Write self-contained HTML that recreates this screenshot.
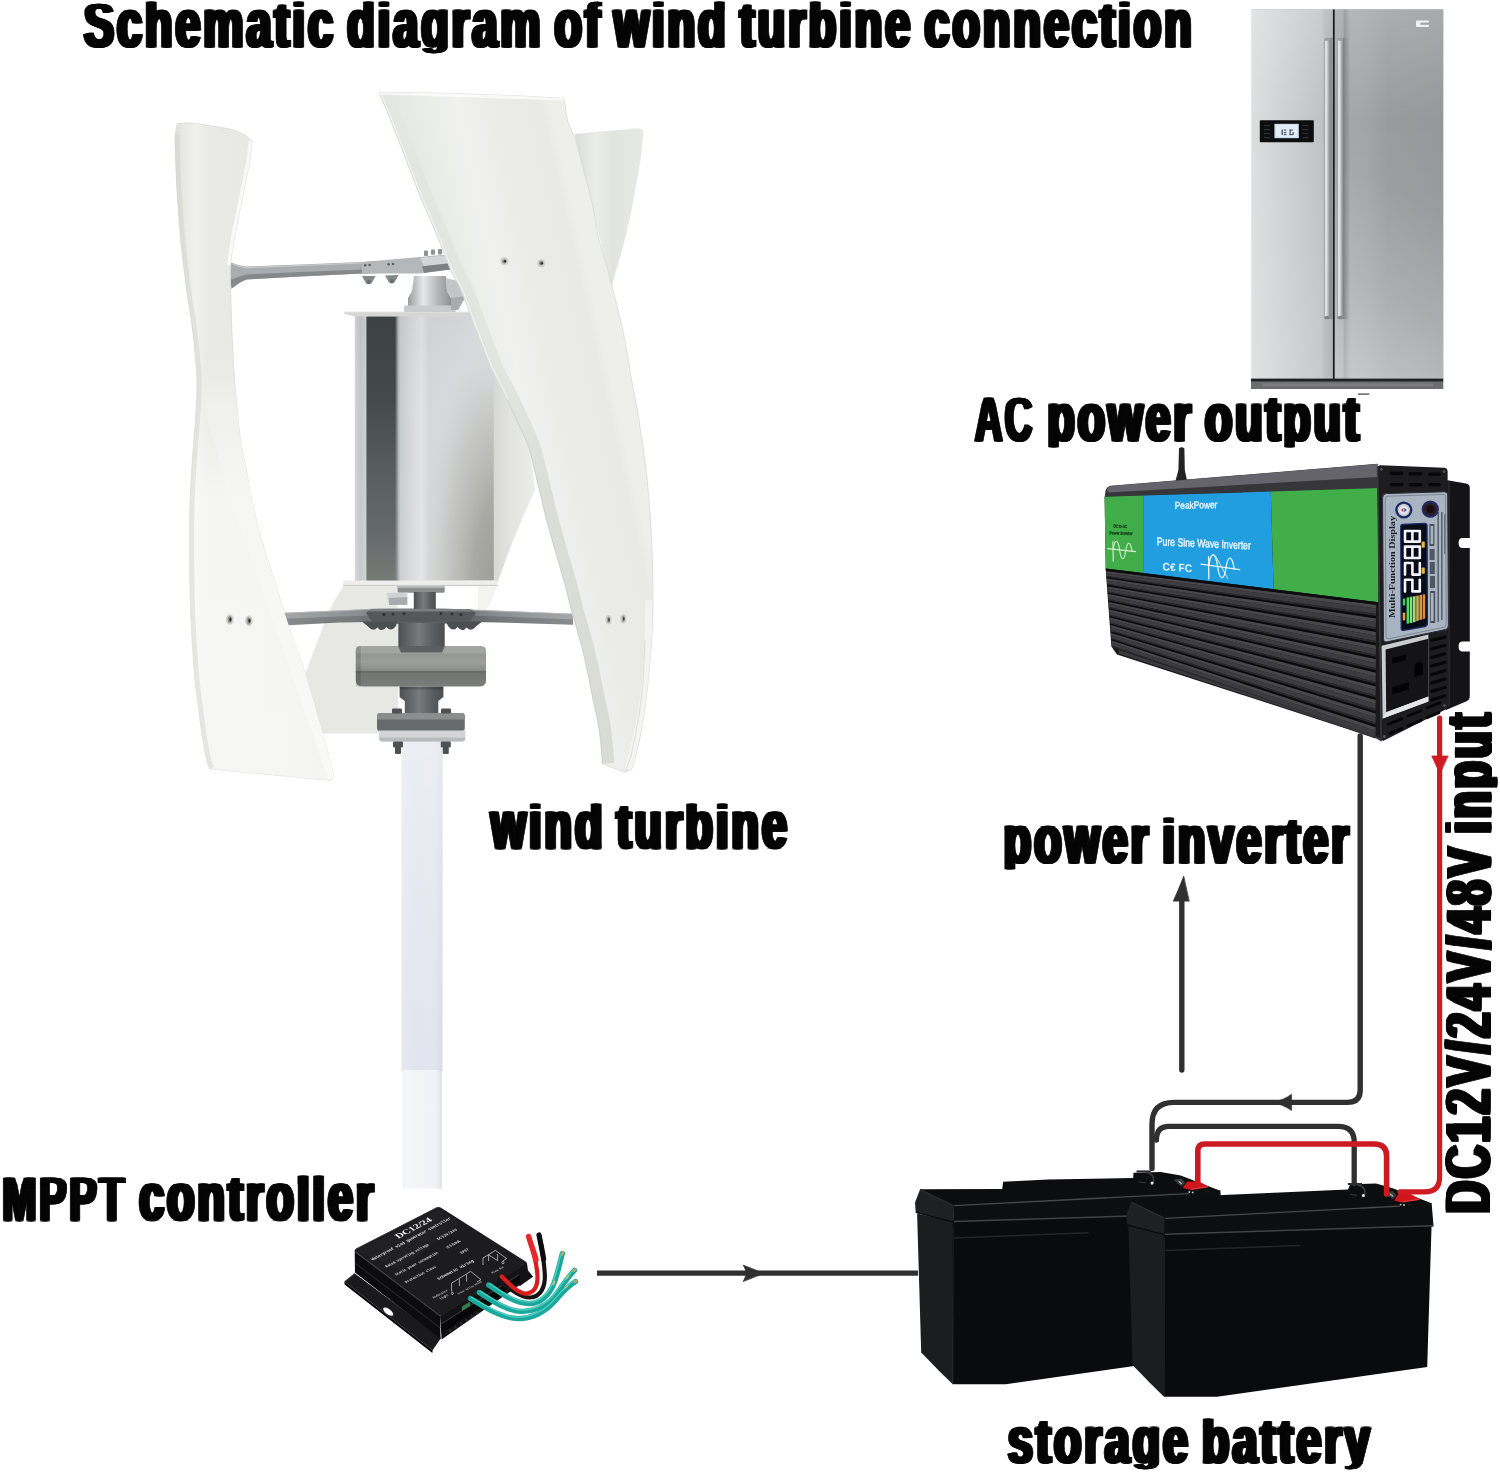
<!DOCTYPE html>
<html>
<head>
<meta charset="utf-8">
<title>Schematic diagram of wind turbine connection</title>
<style>
html,body{margin:0;padding:0;background:#fff;}
body{width:1500px;height:1474px;overflow:hidden;font-family:"Liberation Sans",sans-serif;}
svg{display:block;}
.lbl text{font-family:"Liberation Sans",sans-serif;font-weight:bold;font-size:100px;fill:#050505;stroke:#050505;stroke-width:1.5;stroke-linejoin:miter;letter-spacing:7px;word-spacing:-10px;}
</style>
</head>
<body>
<svg width="1500" height="1474" viewBox="0 0 1500 1474">
<defs>
<linearGradient id="fgL" x1="0" x2="1" y1="0" y2="0"><stop offset="0" stop-color="#dcdedf"/><stop offset="0.3" stop-color="#d2d4d6"/><stop offset="0.85" stop-color="#c0c2c4"/><stop offset="0.9" stop-color="#b4b6b8"/><stop offset="1" stop-color="#a8aaac"/></linearGradient>
<linearGradient id="fgR" x1="0" x2="1" y1="0" y2="0"><stop offset="0" stop-color="#a2a4a6"/><stop offset="0.085" stop-color="#a0a2a4"/><stop offset="0.09" stop-color="#86888a"/><stop offset="0.15" stop-color="#a4a6a8"/><stop offset="0.3" stop-color="#a2a4a6"/><stop offset="0.5" stop-color="#999b9d"/><stop offset="1" stop-color="#95979a"/></linearGradient>
<linearGradient id="fgRB" gradientUnits="userSpaceOnUse" x1="1334" y1="380" x2="1420" y2="200"><stop offset="0" stop-color="#ffffff" stop-opacity="0.32"/><stop offset="0.5" stop-color="#ffffff" stop-opacity="0.12"/><stop offset="1" stop-color="#ffffff" stop-opacity="0"/></linearGradient>
<linearGradient id="fgH" x1="0" x2="1" y1="0" y2="0"><stop offset="0" stop-color="#8a8c8e"/><stop offset="0.3" stop-color="#f2f2f2"/><stop offset="0.55" stop-color="#c8caca"/><stop offset="1" stop-color="#838587"/></linearGradient>
<linearGradient id="fgHS" x1="0" x2="1" y1="0" y2="0"><stop offset="0" stop-color="#7c7e80"/><stop offset="1" stop-color="#9fa1a3" stop-opacity="0"/></linearGradient>
<linearGradient id="fgV" x1="0" x2="0" y1="0" y2="1"><stop offset="0" stop-color="#fff" stop-opacity="0.18"/><stop offset="0.3" stop-color="#fff" stop-opacity="0"/><stop offset="1" stop-color="#fff" stop-opacity="0.12"/></linearGradient>
<g id="battbody">
<!-- body left face -->
<path d="M1128.4 1226 L1164.5 1234 L1164 1396.8 L1150 1383 L1132.5 1365 Z" fill="#1b1d1f"/>
<!-- body front -->
<path d="M1164 1232 L1431.6 1224 L1427.2 1367 L1217 1396.8 L1164 1396.8 Z" fill="#090b0d"/>
<!-- lid left -->
<path d="M1131.5 1201.5 L1165 1217.5 L1164.5 1234.6 L1127 1225 L1126.3 1215 Z" fill="#1e2022"/>
<!-- lid front -->
<path d="M1164.5 1217.5 L1431.6 1203 L1433.6 1226.4 L1164.5 1234.6 Z" fill="#0c0e10"/>
</g>
<g id="batttop">
<!-- highlights -->
<path d="M1165.5 1218.3 L1400 1206.2" stroke="#5b5e61" stroke-width="1.3" fill="none" opacity="0.75"/>
<path d="M1131.5 1202.2 L1165 1218.3" stroke="#2c2e31" stroke-width="1.2" fill="none"/>
<path d="M1165 1234.2 L1433 1225.8" stroke="#46494c" stroke-width="1.5" fill="none" opacity="0.9"/><path d="M1127.2 1225 L1164.5 1234.6" stroke="#0a0b0c" stroke-width="1.4" fill="none"/>
<path d="M1165 1250.5 L1300 1245.4" stroke="#2b2d30" stroke-width="1.5" fill="none" opacity="0.8"/>
<path d="M1164.5 1238 L1164.2 1396" stroke="#1c1e20" stroke-width="1.2" fill="none"/>
<!-- neg terminal -->
<path d="M1347.8 1183 H1362 V1185 H1347.8 Z" fill="#2c2c2e"/>
<path d="M1357.5 1185 Q1364.5 1186 1365 1192 Q1365 1196 1362 1197" stroke="#3a3b3d" stroke-width="1.6" fill="none"/>
<circle cx="1363.4" cy="1195.6" r="1.5" fill="#e6e7e8"/>
<path d="M1350 1194.4 l7 1" stroke="#2e3032" stroke-width="1.2" fill="none"/>
<!-- pos terminal -->
<path d="M1394 1200.5 L1398.5 1194 L1410.5 1194 L1420.4 1199.6 L1402 1202.6 Z" fill="#d0151d"/>
<path d="M1385 1192.4 L1393 1191 L1396.5 1195.6 L1392.6 1199 Z" fill="#3c3e40"/>
<path d="M1390 1194 l3 2.4" stroke="#b9bcbe" stroke-width="1.2" fill="none"/>
<path d="M1402.6 1201.8 L1419 1199.4" stroke="#ef3a40" stroke-width="1.1" fill="none"/>
<circle cx="1400.6" cy="1204.6" r="0.9" fill="#cfd0d1"/><circle cx="1404" cy="1205" r="0.9" fill="#cfd0d1"/>
</g>
<!--TDEFS-START-->
<linearGradient id="poleA" x1="0" x2="1" y1="0" y2="0"><stop offset="0" stop-color="#e6e8ef"/><stop offset="0.35" stop-color="#e1e4ee"/><stop offset="0.8" stop-color="#e2e5ee"/><stop offset="1" stop-color="#d9dce6"/></linearGradient>
<linearGradient id="poleAV" x1="0" x2="0" y1="0" y2="1"><stop offset="0" stop-color="#ffffff" stop-opacity="0.35"/><stop offset="0.5" stop-color="#ffffff" stop-opacity="0.15"/><stop offset="1" stop-color="#ffffff" stop-opacity="0"/></linearGradient>
<linearGradient id="poleB" x1="0" x2="1" y1="0" y2="0"><stop offset="0" stop-color="#eceef2"/><stop offset="0.06" stop-color="#f5f6f8"/><stop offset="0.85" stop-color="#f1f2f5"/><stop offset="0.96" stop-color="#e6e8ec"/><stop offset="1" stop-color="#cfd2d8"/></linearGradient>
<linearGradient id="genG" x1="0" x2="1" y1="0" y2="0"><stop offset="0" stop-color="#d4d7d8"/><stop offset="0.04" stop-color="#c4c7c8"/><stop offset="0.084" stop-color="#cfd2d3"/><stop offset="0.085" stop-color="#5a6163"/><stop offset="0.309" stop-color="#6a7071"/><stop offset="0.325" stop-color="#c9ccce"/><stop offset="0.40" stop-color="#d6d8db"/><stop offset="0.483" stop-color="#e1e3e5"/><stop offset="0.53" stop-color="#d6d7d9"/><stop offset="0.75" stop-color="#d9dadd"/><stop offset="1" stop-color="#e2e3e7"/></linearGradient>
<linearGradient id="genV" x1="0" x2="0" y1="0" y2="1"><stop offset="0" stop-color="#000" stop-opacity="0.03"/><stop offset="0.5" stop-color="#fff" stop-opacity="0"/><stop offset="1" stop-color="#fff" stop-opacity="0.06"/></linearGradient>
<linearGradient id="genD" x1="0" x2="0" y1="0" y2="1"><stop offset="0" stop-color="#3c4244"/><stop offset="0.32" stop-color="#434a4c"/><stop offset="0.58" stop-color="#565d5f"/><stop offset="0.83" stop-color="#656b6b"/><stop offset="1" stop-color="#767b76"/></linearGradient>
<linearGradient id="backMR" gradientUnits="userSpaceOnUse" x1="493" y1="0" x2="533" y2="0"><stop offset="0" stop-color="#d6d8d3"/><stop offset="0.5" stop-color="#e4e5e1"/><stop offset="1" stop-color="#ecede9"/></linearGradient>
<linearGradient id="genDE" x1="0" x2="1" y1="0" y2="0"><stop offset="0" stop-color="#8e9496" stop-opacity="0"/><stop offset="1" stop-color="#c9ccce"/></linearGradient>
<radialGradient id="genHL" gradientUnits="userSpaceOnUse" cx="0" cy="0" r="1" gradientTransform="translate(500,590) scale(78,265)"><stop offset="0" stop-color="#9a9b92" stop-opacity="1"/><stop offset="0.35" stop-color="#a3a49c" stop-opacity="0.9"/><stop offset="0.7" stop-color="#b4b5af" stop-opacity="0.5"/><stop offset="1" stop-color="#c8c9c6" stop-opacity="0"/></radialGradient>
<linearGradient id="rimF" gradientUnits="userSpaceOnUse" x1="0" y1="92" x2="0" y2="770"><stop offset="0" stop-color="#e4e6e1"/><stop offset="0.4" stop-color="#dcded9"/><stop offset="0.6" stop-color="#cdcfc9"/><stop offset="1" stop-color="#cbcdc7"/></linearGradient>
<linearGradient id="bladeLV" x1="0" x2="0" y1="0" y2="1"><stop offset="0" stop-color="#ffffff" stop-opacity="0"/><stop offset="0.3" stop-color="#ffffff" stop-opacity="0.55"/><stop offset="1" stop-color="#ffffff" stop-opacity="0.6"/></linearGradient>
<linearGradient id="coupG" x1="0" x2="1" y1="0" y2="0"><stop offset="0" stop-color="#9a9d9f"/><stop offset="0.35" stop-color="#e6e7e8"/><stop offset="0.7" stop-color="#b3b6b7"/><stop offset="1" stop-color="#8e9193"/></linearGradient>
<linearGradient id="neckG" x1="0" x2="1" y1="0" y2="0"><stop offset="0" stop-color="#4c5052"/><stop offset="0.45" stop-color="#777b7d"/><stop offset="0.7" stop-color="#5e6264"/><stop offset="1" stop-color="#4a4e50"/></linearGradient>
<linearGradient id="diskG" x1="0" x2="0" y1="0" y2="1"><stop offset="0" stop-color="#8b8d8b"/><stop offset="0.4" stop-color="#9d9f9d"/><stop offset="0.6" stop-color="#8a8c8a"/><stop offset="0.65" stop-color="#727472"/><stop offset="1" stop-color="#7b7d7b"/></linearGradient>
<linearGradient id="armG" gradientUnits="userSpaceOnUse" x1="283" y1="0" x2="573" y2="0"><stop offset="0" stop-color="#a3a7a9"/><stop offset="0.25" stop-color="#8c9092"/><stop offset="0.4" stop-color="#6e7274"/><stop offset="0.6" stop-color="#6e7274"/><stop offset="0.75" stop-color="#8c9092"/><stop offset="1" stop-color="#a3a7a9"/></linearGradient>
<linearGradient id="bladeL" gradientUnits="userSpaceOnUse" x1="176" y1="0" x2="340" y2="0"><stop offset="0" stop-color="#dfe0da"/><stop offset="0.05" stop-color="#e9eae5"/><stop offset="0.12" stop-color="#f1f2ee"/><stop offset="0.2" stop-color="#e9eae5"/><stop offset="0.6" stop-color="#e8e9e4"/><stop offset="1" stop-color="#e4e5e0"/></linearGradient>
<linearGradient id="bladeF" gradientUnits="userSpaceOnUse" x1="400" y1="260" x2="575.7" y2="221"><stop offset="0" stop-color="#e2e4df"/><stop offset="0.22" stop-color="#e7e9e4"/><stop offset="0.5" stop-color="#f1f2ef"/><stop offset="0.72" stop-color="#eaebe7"/><stop offset="0.95" stop-color="#e9eae6"/><stop offset="1" stop-color="#eeefeb"/></linearGradient>
<linearGradient id="rimL" x1="0" x2="0" y1="0" y2="1"><stop offset="0" stop-color="#eaebe6" stop-opacity="0"/><stop offset="0.15" stop-color="#f0f1ee" stop-opacity="1"/><stop offset="0.3" stop-color="#f5f5f3"/><stop offset="1" stop-color="#f9f9f7"/></linearGradient>
<linearGradient id="bladeBR" x1="0" x2="1" y1="0" y2="0"><stop offset="0" stop-color="#d9dbd5"/><stop offset="0.3" stop-color="#ecede9"/><stop offset="0.55" stop-color="#e2e4de"/><stop offset="1" stop-color="#e8e9e4"/></linearGradient>
<!--TDEFS-END-->
<!--CLIPS-START-->
<clipPath id="cA"><rect x="-100" y="-300" width="4000" height="246.85"/></clipPath>
<clipPath id="cB"><rect x="-100" y="-53.95" width="4000" height="55.10"/></clipPath>
<clipPath id="cC"><rect x="-100" y="0.35" width="4000" height="300"/></clipPath>
<!--CLIPS-END-->
<!--DEFS-->
</defs>
<rect width="1500" height="1474" fill="#ffffff"/>
<g opacity="0.999">

<!--TURBINE-START-->
<g>
<rect x="401.4" y="735" width="41.2" height="336" fill="url(#poleA)"/>
<rect x="401.4" y="735" width="41.2" height="336" fill="url(#poleAV)"/>
<rect x="402.7" y="1070" width="38.9" height="118.6" fill="url(#poleB)"/>
<path d="M346.0 582.0 C363.3 582.0 380.7 582.0 398.0 582.0 C398.0 632.5 398.0 683.0 398.0 733.5 C372.8 733.5 347.6 733.5 322.4 733.5 C319.3 724.0 316.1 714.5 313.0 705.0 C309.5 697.3 306.0 689.7 302.5 682.0 C306.3 671.6 309.1 663.1 313.8 650.7 C318.5 638.4 325.5 619.4 330.9 607.9 C336.3 596.4 341.0 590.6 346.0 582.0 Z" fill="#e7e8e3" />
<path d="M490.5 366.0 C496.0 377.3 502.4 390.4 507.0 400.0 C511.6 409.6 514.4 415.7 518.0 423.6 C521.6 431.5 525.6 436.6 528.5 447.5 C531.4 458.4 533.2 475.2 535.5 489.0 C530.3 500.7 524.6 513.2 520.0 524.0 C515.4 534.8 511.8 544.0 508.0 554.0 C504.2 564.0 500.7 574.0 497.0 584.0 C494.8 584.0 492.7 584.0 490.5 584.0 C490.5 511.3 490.5 438.7 490.5 366.0 Z" fill="url(#backMR)" />
<path d="M478.0 586.0 C484.3 586.0 490.7 586.0 497.0 586.0 C495.7 589.7 494.8 592.8 493.0 597.0 C491.2 601.2 488.3 606.3 486.0 611.0 C483.3 611.0 480.7 611.0 478.0 611.0 C478.0 602.7 478.0 594.3 478.0 586.0 Z" fill="#f3f3f0" />
<path d="M574.6 133.9 C583.1 133.1 591.6 132.2 600.0 131.5 C608.4 130.8 618.3 130.1 625.0 129.6 C631.7 129.1 636.9 128.3 640.0 128.6 C643.1 128.9 642.4 130.5 643.6 131.5 C643.3 134.7 643.3 136.3 642.8 141.1 C642.3 145.8 641.5 153.2 640.5 160.0 C639.5 166.8 638.1 173.8 636.7 181.8 C635.3 189.8 633.7 199.5 632.0 208.0 C630.3 216.5 628.1 226.0 626.5 232.7 C624.9 239.4 623.9 242.9 622.5 248.0 C621.1 253.1 619.8 258.2 618.4 263.2 C617.0 268.2 615.1 273.5 614.0 278.0 C612.9 282.5 612.3 286.0 611.5 290.0 C609.3 280.7 607.6 273.3 605.0 262.0 C602.4 250.7 599.2 235.3 596.0 222.0 C592.8 208.7 589.0 194.0 586.0 182.0 C583.0 170.0 579.9 158.0 578.0 150.0 C576.1 142.0 575.7 139.3 574.6 133.9 Z" fill="url(#bladeBR)" />
<rect x="354.8" y="315" width="139" height="266" fill="url(#genG)"/>
<rect x="354.8" y="315" width="139" height="266" fill="url(#genV)"/>
<rect x="420" y="316.6" width="73.8" height="264" fill="url(#genHL)"/>
<rect x="366.5" y="316.6" width="30" height="264" fill="url(#genD)"/>
<rect x="394.5" y="316.6" width="5" height="264" fill="url(#genDE)"/>
<path d="M344.5 311.6 L497 311.6 L497 315 L493.6 316.6 L354.8 316.6 L344.5 314 Z" fill="#d6d6d4"/>
<path d="M344.5 311.6 L497 311.6" stroke="#f2f2f0" stroke-width="1.2"/>
<path d="M343 580.4 L497.5 580.4 L497.5 585.6 L343 585.6 Z" fill="#eeeeec"/>
<path d="M343 585.4 L497.5 585.4" stroke="#c9c9c6" stroke-width="1"/>
<g>
<path d="M408 312 L408 298 L412 291 L414 276 L446 276 L447 291 L451 298 L451 312 Z" fill="url(#coupG)"/>
<rect x="404" y="305.5" width="52" height="6.5" rx="1.5" fill="#c9cbcc"/>
<path d="M446 278 L462 282 L466 296 L458 310 L451 310 L451 298 L447 291 Z" fill="#c3c5c6"/>
<path d="M451 298 L466 296 L458 310 L451 310 Z" fill="#a9acad"/>
<!-- arm -->
<path d="M231.2 262.5 Q228.8 275 231.6 288.5 Q238 283 246 279.6 L300 276.6 L362 273.6 L416 272 L420 266 L416 259.6 L362 262 L300 264.6 L246 266.4 Q238 265.6 231.2 262.5 Z" fill="#a9adaf"/>
<path d="M231.6 288.5 Q238 283 246 279.6 L300 276.6 L362 273.6 L416 272 L416 268.4 L362 269.6 L300 272 L246 274.4 Q237 277 230.4 280 Z" fill="#85898b"/>
<path d="M233 264 Q240 267.4 246 267.6 L362 263 L416 260.6" stroke="#c9cccd" stroke-width="1.2" fill="none"/>
<!-- hub plate -->
<path d="M362 262 L420 257 L458 253.6 L468 256 L468 262 L458 268.6 L420 273.4 L362 273.6 Z" fill="#b5b8ba"/>
<path d="M420 258 L458 254 L468 256.4 L458 262 L424 266 Z" fill="#d2d4d5"/>
<path d="M422 266.4 L458 262.4 L468 257.6 L468 262 L458 268.6 L424 273 Z" fill="#7d8183"/>
<g fill="#8e9294"><rect x="424" y="250.6" width="4" height="5.4" rx="1"/><rect x="431" y="249.4" width="4" height="5.4" rx="1"/><rect x="438" y="249" width="4" height="5.4" rx="1"/><rect x="445" y="250" width="4" height="5.4" rx="1"/></g>
<g fill="#5d6163"><circle cx="365.2" cy="265.2" r="1.3"/><circle cx="369.6" cy="265" r="1.3"/><circle cx="388.6" cy="264.2" r="1.3"/><circle cx="393" cy="264" r="1.3"/></g>
<path d="M362 276 L366 283.4 L371.4 283.4 L375.6 276 Z" fill="#85898b"/><path d="M385 275.4 L389 282.6 L394.4 282.6 L398.6 275 Z" fill="#85898b"/>
<circle cx="368.8" cy="282" r="2.2" fill="#6b6f71"/><circle cx="391.8" cy="281.2" r="2.2" fill="#6b6f71"/>
</g>
<g>
<!-- arms -->
<path d="M283 612.8 L340 610.4 L380 608.4 L440 608.4 L480 610 L573 613.8 L573 624.8 L500 622.4 L470 622 L440 624 L400 624 L370 622 L340 622.6 L283 625.6 Z" fill="url(#armG)"/>
<path d="M283 618.8 L340 616.6 L372 615.4 L400 618 L440 618 L468 615.4 L500 616.6 L573 619.6 L573 624.8 L500 622.4 L470 622 L440 624 L400 624 L370 622 L340 622.6 L283 625.6 Z" fill="#000" opacity="0.16"/>
<path d="M283 613.2 L340 610.8 L380 608.8 L440 608.8 L480 610.4 L573 614.2" stroke="#b9bcbe" stroke-width="1" fill="none" opacity="0.8"/>
<!-- under generator mount -->
<rect x="397.7" y="586" width="47" height="6.8" rx="1" fill="#8b8d8d"/>
<rect x="397.7" y="586" width="47" height="2" fill="#b5b7b7"/>
<rect x="413.8" y="592" width="22" height="17" fill="url(#neckG)"/>
<path d="M386.7 593 L407.3 592.6 L407.3 604.8 L389 605 Z" fill="#cfd1d3"/>
<path d="M389 598 L407.3 597 L407.3 604.8 L389 605 Z" fill="#a9acae"/>
<!-- hub plate -->
<path d="M372 609 L470 609 L476 613 L470 621.6 L372 621.6 L366 613 Z" fill="#54585a"/>
<path d="M372 609 L470 609 L474 611.6 L368 611.6 Z" fill="#7b7f81"/>
<g fill="#2e3133"><circle cx="384" cy="614.6" r="1.5"/><circle cx="393" cy="614" r="1.5"/><circle cx="404" cy="613.6" r="1.5"/><circle cx="441" cy="613.6" r="1.5"/><circle cx="452" cy="614" r="1.5"/><circle cx="461" cy="614.6" r="1.5"/></g>
<path d="M362 621.4 L397 621.4 L396 626 Q391 632.6 386.4 627 Q382 633 377.4 627.4 Q373 632.4 368 626.6 Z" fill="#4b4f51"/>
<path d="M446 621.4 L482 621.4 L476 626.6 Q471 632.4 466.6 627.4 Q462 633 457.6 627 Q453 632.6 448 626 Z" fill="#4b4f51"/>
<!-- neck -->
<path d="M398.3 623 L444.7 623 L444.7 648 L442 652.6 L401 652.6 L398.3 648 Z" fill="url(#neckG)"/>
<!-- disk -->
<path d="M355.8 651 Q355.8 646.2 362 646 L480 646 Q486 646.2 486 651 L486 681 Q486 686.4 479 686.6 L363 686.6 Q355.8 686.4 355.8 681 Z" fill="url(#diskG)"/>
<path d="M355.8 651 Q355.8 646.2 362 646 L480 646 Q486 646.2 486 651 L486 653.6 L355.8 653.6 Z" fill="#a3a5a2"/>
<path d="M398 646 L445 646 L442 652.6 L401 652.6 Z" fill="#5b5f61"/>
<rect x="355.8" y="671" width="130.2" height="1.4" fill="#5f615f" opacity="0.7"/>
<rect x="355.8" y="646" width="5" height="40.6" fill="#000" opacity="0.12"/>
<!-- lower neck -->
<path d="M399.6 686.6 L443.4 686.6 L443.4 697 L438.3 701 L438.3 713 L404.8 713 L404.8 701 L399.6 697 Z" fill="url(#neckG)"/>
<rect x="399.6" y="686.6" width="43.8" height="3" fill="#000" opacity="0.18"/>
<!-- flange -->
<path d="M377 716 Q377 713 380.6 713 L461.2 713 Q464.8 713 464.8 716 L464.8 728 Q464.8 731.4 461 731.4 L381 731.4 Q377 731.4 377 728 Z" fill="#676a6b"/>
<path d="M377 716 Q377 713 380.6 713 L461.2 713 Q464.8 713 464.8 716 L464.8 719.6 L377 719.6 Z" fill="#8c8e8e"/>
<path d="M379 730.6 L465.4 730.6 L465.4 738 Q465.4 741.4 462 741.4 L383 741.4 Q379 741.4 379 738 Z" fill="#d2d4d6"/>
<path d="M379 737.6 L465.4 737.6 L465.4 738 Q465.4 741.4 462 741.4 L383 741.4 Q379 741.4 379 738 Z" fill="#b9bbbd"/>
<g fill="#4e5254"><rect x="392" y="708.4" width="10" height="5" rx="1.2"/><rect x="441" y="708.4" width="10" height="5" rx="1.2"/><rect x="393" y="741.4" width="10" height="6" rx="1"/><rect x="440.8" y="741.4" width="10" height="6" rx="1"/><rect x="395" y="747" width="6" height="7" rx="1"/><rect x="442.8" y="747" width="6" height="7" rx="1"/></g>
</g>
<path d="M177.5 123.5 C181.7 123.3 185.4 122.8 190.0 123.0 C194.6 123.2 198.1 123.9 205.0 125.0 C211.9 126.1 224.7 127.8 231.4 129.5 C238.1 131.2 241.6 133.0 245.0 135.0 C248.4 137.0 249.7 139.3 252.0 141.5 C251.2 148.2 251.1 153.2 249.7 161.6 C248.3 170.0 245.5 182.3 243.6 192.0 C241.7 201.7 239.7 211.5 238.0 220.0 C236.3 228.5 234.7 235.4 233.5 243.0 C232.3 250.6 231.0 256.9 230.6 265.4 C230.2 273.9 230.6 283.6 230.8 294.0 C231.0 304.4 231.4 317.5 231.8 328.0 C232.2 338.5 232.7 348.3 233.2 357.0 C233.7 365.7 234.0 371.4 234.6 380.0 C235.2 388.6 235.9 398.5 236.9 408.5 C237.9 418.5 239.1 430.5 240.5 440.0 C241.9 449.5 243.8 456.5 245.5 465.5 C247.2 474.5 248.6 484.5 250.5 494.0 C252.4 503.5 254.5 513.0 256.9 522.5 C259.3 532.0 262.1 541.5 265.0 551.0 C267.9 560.5 270.6 568.5 274.0 579.4 C277.4 590.3 282.1 606.4 285.4 616.5 C288.6 626.6 290.6 631.9 293.5 640.0 C296.4 648.1 299.6 656.1 302.5 664.9 C305.4 673.7 308.2 683.5 311.0 693.0 C313.8 702.5 316.8 712.4 319.5 721.9 C322.2 731.4 324.6 740.9 327.0 750.0 C329.4 759.1 331.7 767.7 334.0 776.5 C333.0 777.8 332.0 779.0 331.0 780.3 C320.7 779.4 312.7 778.7 300.0 777.5 C287.3 776.3 270.0 774.6 255.0 773.2 C240.0 771.8 224.9 770.3 209.9 768.9 C208.9 766.5 208.3 767.4 207.0 761.8 C205.7 756.1 203.4 744.0 202.0 735.0 C200.6 726.0 199.7 716.8 198.5 707.6 C197.3 698.4 195.9 689.5 195.0 680.0 C194.1 670.5 193.5 661.5 192.8 650.7 C192.1 639.9 191.3 626.9 190.8 615.0 C190.3 603.1 190.1 591.2 189.9 579.4 C189.7 567.6 189.6 555.9 189.6 544.0 C189.6 532.1 189.6 520.2 189.9 508.2 C190.2 496.2 190.9 483.9 191.6 472.0 C192.3 460.1 193.4 447.7 194.2 437.0 C195.0 426.3 195.8 417.5 196.3 408.0 C196.8 398.5 197.2 389.7 197.0 380.0 C196.8 370.3 195.8 360.3 194.8 350.0 C193.8 339.7 192.2 327.0 191.0 318.0 C189.8 309.0 188.6 303.4 187.5 296.0 C186.4 288.6 185.7 282.3 184.6 273.5 C183.5 264.7 182.0 253.2 181.0 243.0 C180.0 232.8 179.2 222.7 178.5 212.5 C177.8 202.3 177.0 192.2 176.5 182.0 C176.0 171.8 175.6 159.2 175.4 151.4 C175.2 143.6 174.8 139.7 175.2 135.0 C175.5 130.3 176.7 127.3 177.5 123.5 Z" fill="url(#bladeL)" />
<path d="M233.5 352.0 C233.9 361.3 234.0 370.6 234.6 380.0 C235.2 389.4 235.9 398.5 236.9 408.5 C237.9 418.5 239.1 430.5 240.5 440.0 C241.9 449.5 242.8 451.8 245.5 465.5 C248.2 479.2 252.1 503.5 256.9 522.5 C261.6 541.5 269.2 563.7 274.0 579.4 C278.8 595.1 280.6 602.2 285.4 616.5 C290.1 630.8 296.8 647.3 302.5 664.9 C308.2 682.5 314.2 703.3 319.5 721.9 C324.8 740.5 329.2 758.3 334.0 776.5 C332.2 777.5 330.3 778.5 328.5 779.5 C323.6 765.0 319.6 752.8 313.8 736.0 C308.0 719.2 300.5 698.0 293.9 679.0 C287.3 660.0 280.6 641.0 274.0 622.0 C267.4 603.0 260.7 584.0 254.0 565.0 C247.3 546.0 240.2 527.0 234.0 508.0 C227.8 489.0 221.5 466.7 217.0 451.2 C212.5 435.7 209.8 426.9 207.0 415.0 C204.2 403.1 201.6 390.5 200.0 380.0 C198.4 369.5 198.3 361.3 197.5 352.0 C209.5 352.0 221.5 352.0 233.5 352.0 Z" fill="url(#rimL)" />
<path d="M177.5 123.5 C181.7 123.3 185.4 122.8 190.0 123.0 C194.6 123.2 198.1 123.9 205.0 125.0 C211.9 126.1 224.7 127.8 231.4 129.5 C238.1 131.2 241.6 133.0 245.0 135.0 C248.4 137.0 249.7 139.3 252.0 141.5 C251.2 148.2 251.1 153.2 249.7 161.6 C248.3 170.0 245.5 182.3 243.6 192.0 C241.7 201.7 239.7 211.5 238.0 220.0 C236.3 228.5 234.7 235.4 233.5 243.0 C232.3 250.6 231.0 256.9 230.6 265.4 C230.2 273.9 230.6 283.6 230.8 294.0 C231.0 304.4 231.4 317.5 231.8 328.0 C232.2 338.5 232.7 348.3 233.2 357.0 C233.7 365.7 234.0 371.4 234.6 380.0 C235.2 388.6 235.9 398.5 236.9 408.5 C237.9 418.5 239.1 430.5 240.5 440.0 C241.9 449.5 243.8 456.5 245.5 465.5 C247.2 474.5 248.6 484.5 250.5 494.0 C252.4 503.5 254.5 513.0 256.9 522.5 C259.3 532.0 262.1 541.5 265.0 551.0 C267.9 560.5 270.6 568.5 274.0 579.4 C277.4 590.3 282.1 606.4 285.4 616.5 C288.6 626.6 290.6 631.9 293.5 640.0 C296.4 648.1 299.6 656.1 302.5 664.9 C305.4 673.7 308.2 683.5 311.0 693.0 C313.8 702.5 316.8 712.4 319.5 721.9 C322.2 731.4 324.6 740.9 327.0 750.0 C329.4 759.1 331.7 767.7 334.0 776.5 C333.0 777.8 332.0 779.0 331.0 780.3 C320.7 779.4 312.7 778.7 300.0 777.5 C287.3 776.3 270.0 774.6 255.0 773.2 C240.0 771.8 224.9 770.3 209.9 768.9 C208.9 766.5 208.3 767.4 207.0 761.8 C205.7 756.1 203.4 744.0 202.0 735.0 C200.6 726.0 199.7 716.8 198.5 707.6 C197.3 698.4 195.9 689.5 195.0 680.0 C194.1 670.5 193.5 661.5 192.8 650.7 C192.1 639.9 191.3 626.9 190.8 615.0 C190.3 603.1 190.1 591.2 189.9 579.4 C189.7 567.6 189.6 555.9 189.6 544.0 C189.6 532.1 189.6 520.2 189.9 508.2 C190.2 496.2 190.9 483.9 191.6 472.0 C192.3 460.1 193.4 447.7 194.2 437.0 C195.0 426.3 195.8 417.5 196.3 408.0 C196.8 398.5 197.2 389.7 197.0 380.0 C196.8 370.3 195.8 360.3 194.8 350.0 C193.8 339.7 192.2 327.0 191.0 318.0 C189.8 309.0 188.6 303.4 187.5 296.0 C186.4 288.6 185.7 282.3 184.6 273.5 C183.5 264.7 182.0 253.2 181.0 243.0 C180.0 232.8 179.2 222.7 178.5 212.5 C177.8 202.3 177.0 192.2 176.5 182.0 C176.0 171.8 175.6 159.2 175.4 151.4 C175.2 143.6 174.8 139.7 175.2 135.0 C175.5 130.3 176.7 127.3 177.5 123.5 Z" fill="none" stroke="#d9d9d2" stroke-width="1" opacity="0.8"/>
<path d="M379.0 92.5 C396.0 92.7 414.5 92.7 430.0 93.0 C445.5 93.3 457.0 93.7 472.0 94.2 C487.0 94.7 504.7 95.3 520.0 96.0 C535.3 96.7 549.1 97.6 563.6 98.4 C564.3 101.6 564.9 104.8 565.6 108.0 C566.2 112.2 565.8 115.2 567.5 120.7 C569.2 126.2 573.0 132.5 575.7 141.1 C578.5 149.7 581.3 161.8 584.0 172.0 C586.7 182.2 589.5 190.8 592.0 202.1 C594.5 213.4 596.8 229.8 599.1 240.0 C601.4 250.2 603.6 254.9 605.9 263.2 C608.2 271.5 610.9 281.9 613.0 290.0 C615.1 298.1 616.6 304.1 618.5 312.0 C620.4 319.9 622.6 329.7 624.3 337.7 C625.9 345.7 627.2 352.9 628.4 360.0 C629.6 367.1 630.2 372.0 631.6 380.0 C633.0 388.0 635.4 398.7 637.0 408.0 C638.6 417.3 639.9 426.4 641.3 435.6 C642.7 444.8 644.0 453.7 645.2 463.0 C646.4 472.3 647.4 482.0 648.3 491.3 C649.2 500.6 649.9 509.7 650.5 519.0 C651.1 528.3 651.5 537.6 651.9 546.9 C652.3 556.2 652.6 565.7 652.8 575.0 C653.0 584.3 653.1 593.3 653.0 602.5 C652.9 611.7 652.7 620.7 652.2 630.0 C651.7 639.3 651.0 648.9 650.2 658.2 C649.4 667.5 648.6 676.7 647.6 686.0 C646.6 695.3 645.3 705.6 644.1 713.8 C642.9 722.0 641.9 728.0 640.5 735.0 C639.1 742.0 637.3 749.8 635.8 755.5 C634.3 761.2 633.0 764.8 631.6 769.4 C629.3 770.3 626.9 771.3 624.6 772.2 C617.2 769.4 609.8 766.7 602.4 763.9 C601.8 756.5 601.3 748.9 600.5 741.6 C599.7 734.3 598.8 727.0 597.5 720.0 C596.2 713.0 594.7 707.9 593.0 699.9 C591.3 691.9 589.5 681.3 587.5 672.0 C585.5 662.7 583.6 654.5 581.0 644.3 C578.4 634.1 574.3 620.8 571.6 610.9 C568.9 601.0 567.3 593.4 565.0 585.0 C562.7 576.6 561.1 571.5 558.0 560.7 C554.9 549.9 549.8 532.6 546.5 520.0 C543.2 507.4 541.0 496.9 538.0 484.8 C535.0 472.7 531.8 457.7 528.5 447.5 C525.2 437.3 521.6 431.5 518.0 423.6 C514.4 415.7 511.5 409.3 507.0 400.0 C502.5 390.7 496.2 379.7 491.0 368.0 C485.8 356.3 481.0 343.0 476.0 330.0 C471.0 317.0 465.2 299.9 461.0 290.0 C456.8 280.1 454.8 279.3 451.0 270.6 C447.2 261.9 442.9 249.8 438.0 238.0 C433.1 226.2 426.7 212.2 421.7 200.0 C416.7 187.8 413.0 177.8 408.0 165.0 C403.0 152.2 396.5 135.1 391.7 123.0 C386.9 110.9 383.2 102.7 379.0 92.5 Z" fill="url(#bladeF)" />
<path d="M379.0 92.5 C396.0 92.7 414.5 92.7 430.0 93.0 C445.5 93.3 457.0 93.7 472.0 94.2 C487.0 94.7 504.7 95.3 520.0 96.0 C535.3 96.7 549.1 97.6 563.6 98.4 C564.3 101.6 564.9 104.8 565.6 108.0 C566.2 112.2 565.8 115.2 567.5 120.7 C569.2 126.2 573.0 132.5 575.7 141.1 C578.5 149.7 581.3 161.8 584.0 172.0 C586.7 182.2 589.5 190.8 592.0 202.1 C594.5 213.4 596.8 229.8 599.1 240.0 C601.4 250.2 603.6 254.9 605.9 263.2 C608.2 271.5 610.9 281.9 613.0 290.0 C615.1 298.1 616.6 304.1 618.5 312.0 C620.4 319.9 622.6 329.7 624.3 337.7 C625.9 345.7 627.2 352.9 628.4 360.0 C629.6 367.1 630.2 372.0 631.6 380.0 C633.0 388.0 635.4 398.7 637.0 408.0 C638.6 417.3 639.9 426.4 641.3 435.6 C642.7 444.8 644.0 453.7 645.2 463.0 C646.4 472.3 647.4 482.0 648.3 491.3 C649.2 500.6 649.9 509.7 650.5 519.0 C651.1 528.3 651.5 537.6 651.9 546.9 C652.3 556.2 652.6 565.7 652.8 575.0 C653.0 584.3 653.1 593.3 653.0 602.5 C652.9 611.7 652.7 620.7 652.2 630.0 C651.7 639.3 651.0 648.9 650.2 658.2 C649.4 667.5 648.6 676.7 647.6 686.0 C646.6 695.3 645.3 705.6 644.1 713.8 C642.9 722.0 641.9 728.0 640.5 735.0 C639.1 742.0 637.3 749.8 635.8 755.5 C634.3 761.2 633.0 764.8 631.6 769.4 C629.3 770.3 626.9 771.3 624.6 772.2 C617.2 769.4 609.8 766.7 602.4 763.9 C601.8 756.5 601.3 748.9 600.5 741.6 C599.7 734.3 598.8 727.0 597.5 720.0 C596.2 713.0 594.7 707.9 593.0 699.9 C591.3 691.9 589.5 681.3 587.5 672.0 C585.5 662.7 583.6 654.5 581.0 644.3 C578.4 634.1 574.3 620.8 571.6 610.9 C568.9 601.0 567.3 593.4 565.0 585.0 C562.7 576.6 561.1 571.5 558.0 560.7 C554.9 549.9 549.8 532.6 546.5 520.0 C543.2 507.4 541.0 496.9 538.0 484.8 C535.0 472.7 531.8 457.7 528.5 447.5 C525.2 437.3 521.6 431.5 518.0 423.6 C514.4 415.7 511.5 409.3 507.0 400.0 C502.5 390.7 496.2 379.7 491.0 368.0 C485.8 356.3 481.0 343.0 476.0 330.0 C471.0 317.0 465.2 299.9 461.0 290.0 C456.8 280.1 454.8 279.3 451.0 270.6 C447.2 261.9 442.9 249.8 438.0 238.0 C433.1 226.2 426.7 212.2 421.7 200.0 C416.7 187.8 413.0 177.8 408.0 165.0 C403.0 152.2 396.5 135.1 391.7 123.0 C386.9 110.9 383.2 102.7 379.0 92.5 Z" fill="none" stroke="#dadad3" stroke-width="1" opacity="0.8"/>
<clipPath id="clF"><path d="M379.0 92.5 C396.0 92.7 414.5 92.7 430.0 93.0 C445.5 93.3 457.0 93.7 472.0 94.2 C487.0 94.7 504.7 95.3 520.0 96.0 C535.3 96.7 549.1 97.6 563.6 98.4 C564.3 101.6 564.9 104.8 565.6 108.0 C566.2 112.2 565.8 115.2 567.5 120.7 C569.2 126.2 573.0 132.5 575.7 141.1 C578.5 149.7 581.3 161.8 584.0 172.0 C586.7 182.2 589.5 190.8 592.0 202.1 C594.5 213.4 596.8 229.8 599.1 240.0 C601.4 250.2 603.6 254.9 605.9 263.2 C608.2 271.5 610.9 281.9 613.0 290.0 C615.1 298.1 616.6 304.1 618.5 312.0 C620.4 319.9 622.6 329.7 624.3 337.7 C625.9 345.7 627.2 352.9 628.4 360.0 C629.6 367.1 630.2 372.0 631.6 380.0 C633.0 388.0 635.4 398.7 637.0 408.0 C638.6 417.3 639.9 426.4 641.3 435.6 C642.7 444.8 644.0 453.7 645.2 463.0 C646.4 472.3 647.4 482.0 648.3 491.3 C649.2 500.6 649.9 509.7 650.5 519.0 C651.1 528.3 651.5 537.6 651.9 546.9 C652.3 556.2 652.6 565.7 652.8 575.0 C653.0 584.3 653.1 593.3 653.0 602.5 C652.9 611.7 652.7 620.7 652.2 630.0 C651.7 639.3 651.0 648.9 650.2 658.2 C649.4 667.5 648.6 676.7 647.6 686.0 C646.6 695.3 645.3 705.6 644.1 713.8 C642.9 722.0 641.9 728.0 640.5 735.0 C639.1 742.0 637.3 749.8 635.8 755.5 C634.3 761.2 633.0 764.8 631.6 769.4 C629.3 770.3 626.9 771.3 624.6 772.2 C617.2 769.4 609.8 766.7 602.4 763.9 C601.8 756.5 601.3 748.9 600.5 741.6 C599.7 734.3 598.8 727.0 597.5 720.0 C596.2 713.0 594.7 707.9 593.0 699.9 C591.3 691.9 589.5 681.3 587.5 672.0 C585.5 662.7 583.6 654.5 581.0 644.3 C578.4 634.1 574.3 620.8 571.6 610.9 C568.9 601.0 567.3 593.4 565.0 585.0 C562.7 576.6 561.1 571.5 558.0 560.7 C554.9 549.9 549.8 532.6 546.5 520.0 C543.2 507.4 541.0 496.9 538.0 484.8 C535.0 472.7 531.8 457.7 528.5 447.5 C525.2 437.3 521.6 431.5 518.0 423.6 C514.4 415.7 511.5 409.3 507.0 400.0 C502.5 390.7 496.2 379.7 491.0 368.0 C485.8 356.3 481.0 343.0 476.0 330.0 C471.0 317.0 465.2 299.9 461.0 290.0 C456.8 280.1 454.8 279.3 451.0 270.6 C447.2 261.9 442.9 249.8 438.0 238.0 C433.1 226.2 426.7 212.2 421.7 200.0 C416.7 187.8 413.0 177.8 408.0 165.0 C403.0 152.2 396.5 135.1 391.7 123.0 C386.9 110.9 383.2 102.7 379.0 92.5 Z"/></clipPath><clipPath id="clL"><path d="M177.5 123.5 C181.7 123.3 185.4 122.8 190.0 123.0 C194.6 123.2 198.1 123.9 205.0 125.0 C211.9 126.1 224.7 127.8 231.4 129.5 C238.1 131.2 241.6 133.0 245.0 135.0 C248.4 137.0 249.7 139.3 252.0 141.5 C251.2 148.2 251.1 153.2 249.7 161.6 C248.3 170.0 245.5 182.3 243.6 192.0 C241.7 201.7 239.7 211.5 238.0 220.0 C236.3 228.5 234.7 235.4 233.5 243.0 C232.3 250.6 231.0 256.9 230.6 265.4 C230.2 273.9 230.6 283.6 230.8 294.0 C231.0 304.4 231.4 317.5 231.8 328.0 C232.2 338.5 232.7 348.3 233.2 357.0 C233.7 365.7 234.0 371.4 234.6 380.0 C235.2 388.6 235.9 398.5 236.9 408.5 C237.9 418.5 239.1 430.5 240.5 440.0 C241.9 449.5 243.8 456.5 245.5 465.5 C247.2 474.5 248.6 484.5 250.5 494.0 C252.4 503.5 254.5 513.0 256.9 522.5 C259.3 532.0 262.1 541.5 265.0 551.0 C267.9 560.5 270.6 568.5 274.0 579.4 C277.4 590.3 282.1 606.4 285.4 616.5 C288.6 626.6 290.6 631.9 293.5 640.0 C296.4 648.1 299.6 656.1 302.5 664.9 C305.4 673.7 308.2 683.5 311.0 693.0 C313.8 702.5 316.8 712.4 319.5 721.9 C322.2 731.4 324.6 740.9 327.0 750.0 C329.4 759.1 331.7 767.7 334.0 776.5 C333.0 777.8 332.0 779.0 331.0 780.3 C320.7 779.4 312.7 778.7 300.0 777.5 C287.3 776.3 270.0 774.6 255.0 773.2 C240.0 771.8 224.9 770.3 209.9 768.9 C208.9 766.5 208.3 767.4 207.0 761.8 C205.7 756.1 203.4 744.0 202.0 735.0 C200.6 726.0 199.7 716.8 198.5 707.6 C197.3 698.4 195.9 689.5 195.0 680.0 C194.1 670.5 193.5 661.5 192.8 650.7 C192.1 639.9 191.3 626.9 190.8 615.0 C190.3 603.1 190.1 591.2 189.9 579.4 C189.7 567.6 189.6 555.9 189.6 544.0 C189.6 532.1 189.6 520.2 189.9 508.2 C190.2 496.2 190.9 483.9 191.6 472.0 C192.3 460.1 193.4 447.7 194.2 437.0 C195.0 426.3 195.8 417.5 196.3 408.0 C196.8 398.5 197.2 389.7 197.0 380.0 C196.8 370.3 195.8 360.3 194.8 350.0 C193.8 339.7 192.2 327.0 191.0 318.0 C189.8 309.0 188.6 303.4 187.5 296.0 C186.4 288.6 185.7 282.3 184.6 273.5 C183.5 264.7 182.0 253.2 181.0 243.0 C180.0 232.8 179.2 222.7 178.5 212.5 C177.8 202.3 177.0 192.2 176.5 182.0 C176.0 171.8 175.6 159.2 175.4 151.4 C175.2 143.6 174.8 139.7 175.2 135.0 C175.5 130.3 176.7 127.3 177.5 123.5 Z"/></clipPath>
<g clip-path="url(#clF)" fill="none"><path d="M602.4 763.9 C601.8 756.5 601.3 748.9 600.5 741.6 C599.7 734.3 598.8 727.0 597.5 720.0 C596.2 713.0 594.7 707.9 593.0 699.9 C591.3 691.9 589.5 681.3 587.5 672.0 C585.5 662.7 583.6 654.5 581.0 644.3 C578.4 634.1 574.3 620.8 571.6 610.9 C568.9 601.0 567.3 593.4 565.0 585.0 C562.7 576.6 561.1 571.5 558.0 560.7 C554.9 549.9 549.8 532.6 546.5 520.0 C543.2 507.4 541.0 496.9 538.0 484.8 C535.0 472.7 531.8 457.7 528.5 447.5 C525.2 437.3 521.6 431.5 518.0 423.6 C514.4 415.7 511.5 409.3 507.0 400.0 C502.5 390.7 496.2 379.7 491.0 368.0 C485.8 356.3 481.0 343.0 476.0 330.0 C471.0 317.0 465.2 299.9 461.0 290.0 C456.8 280.1 454.8 279.3 451.0 270.6 C447.2 261.9 442.9 249.8 438.0 238.0 C433.1 226.2 426.7 212.2 421.7 200.0 C416.7 187.8 413.0 177.8 408.0 165.0 C403.0 152.2 396.5 135.1 391.7 123.0 C386.9 110.9 383.2 102.7 379.0 92.5" stroke="url(#rimF)" stroke-width="24" opacity="0.6"/><path d="M507.0 400.0 C504.3 394.7 496.2 379.7 491.0 368.0 C485.8 356.3 481.0 343.0 476.0 330.0 C471.0 317.0 465.2 299.9 461.0 290.0 C456.8 280.1 454.8 279.3 451.0 270.6 C447.2 261.9 442.9 249.8 438.0 238.0 C433.1 226.2 426.7 212.2 421.7 200.0 C416.7 187.8 413.0 177.8 408.0 165.0 C403.0 152.2 396.5 135.1 391.7 123.0 C386.9 110.9 383.2 102.7 379.0 92.5" stroke="#ffffff" stroke-width="4" opacity="0.55"/><path d="M602.4 763.9 C601.8 756.5 601.3 748.9 600.5 741.6 C599.7 734.3 598.8 727.0 597.5 720.0 C596.2 713.0 594.7 707.9 593.0 699.9 C591.3 691.9 589.5 681.3 587.5 672.0 C585.5 662.7 583.6 654.5 581.0 644.3 C578.4 634.1 574.3 620.8 571.6 610.9 C568.9 601.0 567.3 593.4 565.0 585.0 C562.7 576.6 561.1 571.5 558.0 560.7 C554.9 549.9 549.8 532.6 546.5 520.0 C543.2 507.4 541.0 496.9 538.0 484.8 C535.0 472.7 531.8 457.7 528.5 447.5 C525.2 437.3 521.6 431.5 518.0 423.6 C514.4 415.7 511.5 409.3 507.0 400.0 C502.5 390.7 496.2 379.7 491.0 368.0 C485.8 356.3 481.0 343.0 476.0 330.0 C471.0 317.0 465.2 299.9 461.0 290.0 C456.8 280.1 454.8 279.3 451.0 270.6 C447.2 261.9 442.9 249.8 438.0 238.0 C433.1 226.2 426.7 212.2 421.7 200.0 C416.7 187.8 413.0 177.8 408.0 165.0 C403.0 152.2 396.5 135.1 391.7 123.0 C386.9 110.9 383.2 102.7 379.0 92.5" stroke="#c9cbc5" stroke-width="1.2" opacity="0.7"/><path d="M379 92.5 L563.6 98.4" stroke="#ffffff" stroke-width="4" opacity="0.7"/><path d="M649.0 600.0 C648.7 609.7 648.5 639.2 647.2 658.2 C645.9 677.2 644.2 695.3 641.1 713.8 C638.0 732.3 630.7 760.1 628.6 769.4" stroke="#fafaf8" stroke-width="7" opacity="0.6"/><path d="M645.0 640.0 C644.6 647.7 643.6 673.7 642.6 686.0 C641.6 698.3 641.0 702.2 639.1 713.8 C637.2 725.4 633.4 745.8 631.0 755.5 C628.6 765.2 626.0 769.2 625.0 772.0" stroke="#d5d7d1" stroke-width="1.1" opacity="0.7"/></g>
<rect x="170" y="380" width="170" height="405" fill="url(#bladeLV)" clip-path="url(#clL)"/>
<path d="M233.5 352.0 C233.9 361.3 234.0 370.6 234.6 380.0 C235.2 389.4 235.9 398.5 236.9 408.5 C237.9 418.5 239.1 430.5 240.5 440.0 C241.9 449.5 242.8 451.8 245.5 465.5 C248.2 479.2 252.1 503.5 256.9 522.5 C261.6 541.5 269.2 563.7 274.0 579.4 C278.8 595.1 280.6 602.2 285.4 616.5 C290.1 630.8 296.8 647.3 302.5 664.9 C308.2 682.5 314.2 703.3 319.5 721.9 C324.8 740.5 329.2 758.3 334.0 776.5 C332.2 777.5 330.3 778.5 328.5 779.5 C323.6 765.0 319.6 752.8 313.8 736.0 C308.0 719.2 300.5 698.0 293.9 679.0 C287.3 660.0 280.6 641.0 274.0 622.0 C267.4 603.0 260.7 584.0 254.0 565.0 C247.3 546.0 240.2 527.0 234.0 508.0 C227.8 489.0 221.5 466.7 217.0 451.2 C212.5 435.7 209.8 426.9 207.0 415.0 C204.2 403.1 201.6 390.5 200.0 380.0 C198.4 369.5 198.3 361.3 197.5 352.0 C209.5 352.0 221.5 352.0 233.5 352.0 Z" fill="url(#rimL)" />
<g clip-path="url(#clL)" fill="none"><path d="M175.2 135.0 C175.2 137.7 175.2 143.6 175.4 151.4 C175.6 159.2 176.0 171.8 176.5 182.0 C177.0 192.2 177.8 202.3 178.5 212.5 C179.2 222.7 180.0 232.8 181.0 243.0 C182.0 253.2 183.5 264.7 184.6 273.5 C185.7 282.3 186.4 288.6 187.5 296.0 C188.6 303.4 189.8 309.0 191.0 318.0 C192.2 327.0 193.8 339.7 194.8 350.0 C195.8 360.3 196.8 370.3 197.0 380.0 C197.2 389.7 196.8 398.5 196.3 408.0 C195.8 417.5 195.0 426.3 194.2 437.0 C193.4 447.7 192.3 460.1 191.6 472.0 C190.9 483.9 190.2 496.2 189.9 508.2 C189.6 520.2 189.6 532.1 189.6 544.0 C189.6 555.9 189.7 567.6 189.9 579.4 C190.1 591.2 190.3 603.1 190.8 615.0 C191.3 626.9 192.1 639.9 192.8 650.7 C193.5 661.5 194.1 670.5 195.0 680.0 C195.9 689.5 197.3 698.4 198.5 707.6 C199.7 716.8 200.6 726.0 202.0 735.0 C203.4 744.0 205.7 756.1 207.0 761.8 C208.3 767.4 208.9 766.5 209.9 768.9" stroke="#cfd1ca" stroke-width="9" opacity="0.45"/><path d="M252.0 141.5 C251.6 144.8 251.1 153.2 249.7 161.6 C248.3 170.0 245.5 182.3 243.6 192.0 C241.7 201.7 239.7 211.5 238.0 220.0 C236.3 228.5 234.7 235.4 233.5 243.0 C232.3 250.6 231.1 261.7 230.6 265.4" stroke="#ffffff" stroke-width="7" opacity="0.7"/></g>
<ellipse cx="504.4" cy="261.3" rx="4.0" ry="4.0" fill="#d0d0cb"/><ellipse cx="504.4" cy="261.3" rx="2.4" ry="2.4" fill="#9a9a96"/><ellipse cx="504.9" cy="261.3" rx="1.2" ry="1.32" fill="#2e2e2e"/>
<ellipse cx="541.3" cy="263.2" rx="4.0" ry="4.0" fill="#d0d0cb"/><ellipse cx="541.3" cy="263.2" rx="2.4" ry="2.4" fill="#9a9a96"/><ellipse cx="541.8" cy="263.2" rx="1.2" ry="1.32" fill="#2e2e2e"/>
<ellipse cx="229.8" cy="619.5" rx="3.8000000000000003" ry="5.2" fill="#d0d0cb"/><ellipse cx="229.8" cy="619.5" rx="2.2" ry="3.6" fill="#9a9a96"/><ellipse cx="230.3" cy="619.5" rx="1.1" ry="1.9800000000000002" fill="#2e2e2e"/>
<ellipse cx="248.9" cy="620.8" rx="3.8000000000000003" ry="5.2" fill="#d0d0cb"/><ellipse cx="248.9" cy="620.8" rx="2.2" ry="3.6" fill="#9a9a96"/><ellipse cx="249.4" cy="620.8" rx="1.1" ry="1.9800000000000002" fill="#2e2e2e"/>
<ellipse cx="608.5" cy="619.8" rx="3.1" ry="4.800000000000001" fill="#d0d0cb"/><ellipse cx="608.5" cy="619.8" rx="1.5" ry="3.2" fill="#9a9a96"/><ellipse cx="609.0" cy="619.8" rx="0.75" ry="1.7600000000000002" fill="#2e2e2e"/>
<ellipse cx="623.3" cy="618.7" rx="3.1" ry="4.800000000000001" fill="#d0d0cb"/><ellipse cx="623.3" cy="618.7" rx="1.5" ry="3.2" fill="#9a9a96"/><ellipse cx="623.8" cy="618.7" rx="0.75" ry="1.7600000000000002" fill="#2e2e2e"/>
</g>
<!--TURBINE-END-->

<!--FRIDGE-->
<g>
<rect x="1251" y="9.5" width="192.2" height="379.5" fill="#9a9c9e"/>
<rect x="1251" y="9.5" width="82.5" height="370" fill="url(#fgL)"/>
<rect x="1334" y="9.5" width="109.2" height="370" fill="url(#fgR)"/>
<rect x="1334" y="9.5" width="109.2" height="370" fill="url(#fgRB)"/>
<rect x="1251" y="9.5" width="192.2" height="370" fill="url(#fgV)"/>
<rect x="1332.9" y="9.5" width="1.8" height="370" fill="#1c1e20"/>
<rect x="1251" y="9.5" width="1.2" height="370" fill="#e8eaeb" opacity="0.8"/>
<!-- bottom plinth -->
<rect x="1251" y="378.6" width="192.2" height="3.2" fill="#1f2123"/>
<rect x="1251" y="381.6" width="192.2" height="7.4" fill="#6b6d6f"/>
<rect x="1262" y="383.4" width="171" height="3" fill="#7c7e80"/>
<path d="M1358 394.1 H1369.2" stroke="#4a4a4a" stroke-width="1.3"/>
<!-- handles -->
<rect x="1330" y="37.7" width="3" height="281.5" fill="#8e9092"/>
<rect x="1343" y="37.7" width="7" height="281.5" fill="url(#fgHS)"/>
<rect x="1324" y="37.7" width="6.2" height="281.6" rx="2.6" fill="url(#fgH)"/>
<rect x="1337" y="37.7" width="6.2" height="281.6" rx="2.6" fill="url(#fgH)"/>
<rect x="1324.6" y="37.7" width="5" height="3" rx="1.5" fill="#9b9d9f"/>
<rect x="1337.6" y="37.7" width="5" height="3" rx="1.5" fill="#9b9d9f"/>
<rect x="1324.6" y="316" width="5" height="3.3" rx="1.5" fill="#7f8183"/>
<rect x="1337.6" y="316" width="5" height="3.3" rx="1.5" fill="#7f8183"/>
<!-- display -->
<rect x="1259.8" y="120.2" width="54" height="22" rx="0.8" fill="#0c0d0f"/>
<rect x="1274.4" y="123.8" width="24.4" height="14.4" fill="#cfdceb"/>
<rect x="1275.6" y="125" width="22" height="12" fill="#e2ecf6"/>
<g fill="#4d6178"><rect x="1281.5" y="129.5" width="1.4" height="5.5"/><rect x="1283.8" y="129.5" width="2.6" height="1.2"/><rect x="1283.8" y="132" width="2.6" height="1.2"/><rect x="1283.8" y="134" width="2.6" height="1.2"/><rect x="1289.5" y="129.5" width="1.3" height="5.5"/><rect x="1289.5" y="129.5" width="3.4" height="1.2"/><rect x="1289.5" y="134" width="3.4" height="1.2"/><rect x="1292.5" y="132" width="1.3" height="3"/></g>
<g fill="#2c2f33"><rect x="1264" y="125" width="6" height="1.2"/><rect x="1264" y="129" width="6" height="1.2"/><rect x="1264" y="133" width="6" height="1.2"/><rect x="1264" y="137" width="6" height="1.2"/><rect x="1302.5" y="125" width="6" height="1.2"/><rect x="1302.5" y="129" width="6" height="1.2"/><rect x="1302.5" y="133" width="6" height="1.2"/><rect x="1302.5" y="137" width="6" height="1.2"/></g>
<!-- logo -->
<rect x="1416" y="20.6" width="13" height="6.4" rx="1" fill="#eef0f1"/>
<rect x="1420.5" y="22.6" width="8.5" height="2.2" fill="#9fa3a6"/>
</g>

<!--INVERTER-->
<g>
<!-- antenna -->
<path d="M1179 448.5 Q1181.6 446.2 1184.4 448.5 L1184.8 470 L1187 480.5 L1175.2 482 L1178.4 470 Z" fill="#232325"/>
<!-- bracket -->
<path d="M1446 480 L1466 483.4 Q1469.8 484 1469.8 488 V538 H1462.5 Q1458.6 538 1458.6 543 Q1458.6 548 1462.5 548 H1469.8 V641.5 H1462.5 Q1458.6 641.5 1458.6 646.5 Q1458.6 651.5 1462.5 651.5 H1469.8 V696 Q1469.8 700 1466 701.5 L1446 710 Z" fill="#141416"/>
<path d="M1449 482 L1449 706" stroke="#2e2e31" stroke-width="1.5" fill="none"/>
<!-- top strip -->
<path d="M1104.6 497.2 L1105.6 490.5 Q1106.8 486.2 1111 485.7 L1377.5 463.8 L1379 488.5 Z" fill="#35353a"/>
<path d="M1107 490 Q1107.8 486.8 1111 486.1 L1377.5 464 L1378 477 L1108.5 492.4 Z" fill="#65636c"/>
<!-- side base -->
<path d="M1104.6 496.8 L1378.5 488 L1381.5 741.5 L1376 738.2 L1117 654.4 L1111.4 646.6 L1105.8 571 Z" fill="#19191b"/>
<!-- label -->
<path d="M1104.6 496.8 L1143.6 495.6 L1143.6 573.1 L1105.6 568.4 Z" fill="#40ad49"/>
<path d="M1143.4 495.6 L1270.8 491.6 L1273.6 589.3 L1143.4 573.1 Z" fill="#209ee0"/>
<path d="M1270.8 491.6 L1378.2 488 L1378.4 602.3 L1273.6 589.3 Z" fill="#41ae49"/>
<!-- ribs -->
<path d="M1106.0 569.5 L1376.0 602.3 L1376.0 604.7 L1106.1 570.9 Z" fill="#0a0a0c"/>
<path d="M1106.1 570.9 L1376.0 604.7 L1376.0 608.4 L1106.3 573.0 Z" fill="#48484c"/>
<path d="M1106.3 573.0 L1376.0 608.4 L1376.0 613.9 L1106.5 576.1 Z" fill="#3c3c40"/>
<path d="M1106.5 576.1 L1376.0 613.9 L1376.0 615.9 L1106.6 577.2 Z" fill="#2a2a2e"/>
<path d="M1106.6 577.2 L1376.0 615.9 L1375.9 618.4 L1106.7 578.6 Z" fill="#0a0a0c"/>
<path d="M1106.7 578.6 L1375.9 618.4 L1375.9 622.0 L1106.9 580.7 Z" fill="#48484c"/>
<path d="M1106.9 580.7 L1375.9 622.0 L1375.9 627.5 L1107.1 583.8 Z" fill="#3c3c40"/>
<path d="M1107.1 583.8 L1375.9 627.5 L1375.9 629.5 L1107.2 585.0 Z" fill="#2a2a2e"/>
<path d="M1107.2 585.0 L1375.9 629.5 L1375.9 632.0 L1107.3 586.4 Z" fill="#0a0a0c"/>
<path d="M1107.3 586.4 L1375.9 632.0 L1375.9 635.6 L1107.5 588.5 Z" fill="#48484c"/>
<path d="M1107.5 588.5 L1375.9 635.6 L1375.9 641.1 L1107.7 591.6 Z" fill="#3c3c40"/>
<path d="M1107.7 591.6 L1375.9 641.1 L1375.8 643.1 L1107.8 592.8 Z" fill="#2a2a2e"/>
<path d="M1107.8 592.8 L1375.8 643.1 L1375.8 645.6 L1107.9 594.1 Z" fill="#0a0a0c"/>
<path d="M1107.9 594.1 L1375.8 645.6 L1375.8 649.3 L1108.1 596.2 Z" fill="#48484c"/>
<path d="M1108.1 596.2 L1375.8 649.3 L1375.8 654.7 L1108.3 599.3 Z" fill="#3c3c40"/>
<path d="M1108.3 599.3 L1375.8 654.7 L1375.8 656.7 L1108.4 600.5 Z" fill="#2a2a2e"/>
<path d="M1108.4 600.5 L1375.8 656.7 L1375.8 659.2 L1108.5 601.9 Z" fill="#0a0a0c"/>
<path d="M1108.5 601.9 L1375.8 659.2 L1375.8 662.9 L1108.7 604.0 Z" fill="#48484c"/>
<path d="M1108.7 604.0 L1375.8 662.9 L1375.8 668.3 L1108.9 607.1 Z" fill="#3c3c40"/>
<path d="M1108.9 607.1 L1375.8 668.3 L1375.8 670.3 L1109.0 608.2 Z" fill="#2a2a2e"/>
<path d="M1109.0 608.2 L1375.8 670.3 L1375.7 672.8 L1109.1 609.6 Z" fill="#0a0a0c"/>
<path d="M1109.1 609.6 L1375.7 672.8 L1375.7 676.5 L1109.3 611.7 Z" fill="#48484c"/>
<path d="M1109.3 611.7 L1375.7 676.5 L1375.7 681.9 L1109.5 614.8 Z" fill="#3c3c40"/>
<path d="M1109.5 614.8 L1375.7 681.9 L1375.7 684.0 L1109.6 616.0 Z" fill="#2a2a2e"/>
<path d="M1109.6 616.0 L1375.7 684.0 L1375.7 686.4 L1109.7 617.4 Z" fill="#0a0a0c"/>
<path d="M1109.7 617.4 L1375.7 686.4 L1375.7 690.1 L1109.9 619.5 Z" fill="#48484c"/>
<path d="M1109.9 619.5 L1375.7 690.1 L1375.7 695.5 L1110.1 622.6 Z" fill="#3c3c40"/>
<path d="M1110.1 622.6 L1375.7 695.5 L1375.7 697.6 L1110.2 623.8 Z" fill="#2a2a2e"/>
<path d="M1110.2 623.8 L1375.7 697.6 L1375.6 700.0 L1110.3 625.1 Z" fill="#0a0a0c"/>
<path d="M1110.3 625.1 L1375.6 700.0 L1375.6 703.7 L1110.5 627.2 Z" fill="#48484c"/>
<path d="M1110.5 627.2 L1375.6 703.7 L1375.6 709.1 L1110.7 630.3 Z" fill="#3c3c40"/>
<path d="M1110.7 630.3 L1375.6 709.1 L1375.6 711.2 L1110.8 631.5 Z" fill="#2a2a2e"/>
<path d="M1110.8 631.5 L1375.6 711.2 L1375.6 713.6 L1110.9 632.9 Z" fill="#0a0a0c"/>
<path d="M1110.9 632.9 L1375.6 713.6 L1375.6 717.3 L1111.1 635.0 Z" fill="#48484c"/>
<path d="M1111.1 635.0 L1375.6 717.3 L1375.6 722.7 L1111.3 638.1 Z" fill="#3c3c40"/>
<path d="M1111.3 638.1 L1375.6 722.7 L1375.5 724.8 L1111.4 639.2 Z" fill="#2a2a2e"/>
<path d="M1111.4 639.2 L1375.5 724.8 L1375.5 727.2 L1111.5 640.6 Z" fill="#0a0a0c"/>
<path d="M1111.5 640.6 L1375.5 727.2 L1375.5 730.9 L1111.7 642.7 Z" fill="#48484c"/>
<path d="M1111.7 642.7 L1375.5 730.9 L1375.5 736.4 L1111.9 645.8 Z" fill="#3c3c40"/>
<path d="M1111.9 645.8 L1375.5 736.4 L1375.5 738.4 L1112.0 647.0 Z" fill="#2a2a2e"/>
<path d="M1105.6 568.4 L1378.4 602.3 L1378.4 605 L1106 571 Z" fill="#0c0c0e"/>
<path d="M1118.5 653.5 L1376 737.5 L1381.5 741.5 L1381.3 738 L1119 650 Z" fill="#3a3a3d"/>
<!-- label text -->
<g fill="#e9f6ff" font-family="Liberation Sans, sans-serif">
<text transform="matrix(1 -0.02 0 1 1174.8 509)" font-size="10.2" textLength="42.5" lengthAdjust="spacingAndGlyphs" stroke="#e9f6ff" stroke-width="0.35">PeakPower</text>
<text transform="matrix(1 0.045 0 1 1156.8 545.2)" font-size="11.6" textLength="94" lengthAdjust="spacingAndGlyphs" stroke="#e9f6ff" stroke-width="0.45">Pure Sine Wave Inverter</text>
<text transform="matrix(1 0.07 0 1 1162.6 570.2)" font-size="11" textLength="29.5" lengthAdjust="spacingAndGlyphs" font-weight="bold">C€ FC</text>
</g>
<g fill="none" stroke="#e9f6ff" stroke-width="1.3" stroke-linecap="round">
<path d="M1201 564.2 L1239.6 569.6"/>
<path d="M1208.6 556.6 L1208.8 579"/>
<path d="M1208.8 565.4 C1211 551 1215.5 551 1217.6 566.5 C1219.6 581 1223.8 581.5 1226 567.8 C1228 554.5 1232 555 1234.2 569"/>
<path d="M1216.2 557 L1227.6 578.4" stroke-width="0.9"/>
</g>
<g fill="none" stroke="#d6f3d0" stroke-width="1.1" stroke-linecap="round">
<path d="M1107.6 548.6 L1135.6 551.6"/>
<path d="M1113 541.6 L1113.2 561"/>
<path d="M1113.2 549.2 C1114.8 538.5 1118 538.5 1119.6 550 C1121.2 561.5 1124.2 561.5 1125.8 550.6 C1127.4 540.5 1130.4 541 1132 551.2"/>
</g>
<g fill="#0f3d18" stroke="#0f3d18" stroke-width="0.3" font-family="Liberation Sans, sans-serif" font-weight="bold"><text transform="matrix(1 0.03 0 1 1113.4 527.6)" font-size="4.6" textLength="13.6" lengthAdjust="spacingAndGlyphs">DC to AC</text><text transform="matrix(1 0.03 0 1 1109.6 534.4)" font-size="4.6" textLength="23" lengthAdjust="spacingAndGlyphs">Power Inverter</text></g>
<!-- front face -->
<path d="M1377.3 468.5 Q1377.3 465.2 1381 465.3 L1444 467.8 Q1447.6 468 1447.6 471.5 L1448.6 708 L1384 740.5 Q1381.4 741.6 1381.3 738.5 Z" fill="#1d1d20"/>
<path d="M1377.6 467 L1381.2 739.5" stroke="#38383c" stroke-width="1.6" fill="none"/>
<!-- top vents -->
<g fill="#08080a">
<rect x="1389.5" y="471.6" width="14" height="3.6" rx="1.8"/><rect x="1408.5" y="472" width="14" height="3.6" rx="1.8"/><rect x="1428" y="472.4" width="13" height="3.6" rx="1.8"/>
<rect x="1389.5" y="483" width="14" height="3.6" rx="1.8"/><rect x="1408.5" y="483" width="14" height="3.6" rx="1.8"/><rect x="1428" y="483" width="13" height="3.6" rx="1.8"/>
</g>
<!-- grey panel -->
<path d="M1382.6 497.5 Q1382.6 493.8 1386.4 493.6 L1444.6 491.8 Q1447.6 491.8 1447.7 495 L1448.4 625.5 Q1448.4 628.8 1445.4 629.6 L1387.4 641.8 Q1383.6 642.6 1383.5 638.8 Z" fill="#a9b4c3" stroke="#2a2d33" stroke-width="1"/>
<path d="M1385.2 499.2 Q1385.2 496.4 1388 496.2 L1443.8 494.4 Q1445.6 494.4 1445.6 496.4 L1446.2 624 Q1446.2 626.6 1444 627.2 L1388.8 638.8 Q1386 639.4 1386 636.6 Z" fill="none" stroke="#5d6672" stroke-width="0.6"/>
<!-- knobs -->
<circle cx="1403.8" cy="510" r="8.6" fill="#1d2a63"/>
<circle cx="1403.8" cy="510" r="6.2" fill="#c3c8cf"/>
<circle cx="1403.8" cy="510" r="4.6" fill="#e4e6ea"/>
<path d="M1401 510 l2.4 -2.2 v4.4 Z" fill="#d0393b"/><path d="M1406.8 510 l-2.4 -2.2 v4.4 Z" fill="#2a55b8"/>
<circle cx="1430.3" cy="509.2" r="8.6" fill="#232a5c"/>
<circle cx="1430.3" cy="509.2" r="6.2" fill="#2c1c20"/>
<circle cx="1430.3" cy="509.2" r="3.6" fill="#150d10"/>
<!-- LCD -->
<path d="M1400.7 526.8 Q1400.7 524.4 1403 524.3 L1424.6 523.4 Q1427 523.4 1427 525.8 L1427.4 623.6 Q1427.4 626 1425 626.5 L1403.6 630.4 Q1401.2 630.8 1401.2 628.4 Z" fill="#080b18" stroke="#1c2a66" stroke-width="1.3"/>
<!-- digits (rotated 2288) -->
<g fill="none" stroke="#f4f7ff" stroke-width="2.6" stroke-linejoin="round" stroke-linecap="round">
<path d="M1405 591.4 V579.8 H1412.4 V591.4 H1419.8 V579.8"/>
<path d="M1405 574.6 V563 H1412.4 V574.6 H1419.8 V563"/>
<path d="M1405 558 V546.6 H1419.8 V558 H1405 M1412.4 546.6 V558"/>
<path d="M1405 541.6 V531 H1419.8 V541.6 H1405 M1412.4 531 V541.6"/>
</g>
<rect x="1421.6" y="541.6" width="3.2" height="6.2" rx="0.8" fill="#f0b530"/>
<rect x="1421.6" y="567.6" width="3.2" height="6.2" rx="0.8" fill="#f0b530"/>
<rect x="1402.8" y="598.6" width="2.4" height="7" rx="0.8" fill="#3fd24e"/>
<rect x="1402.8" y="612.4" width="2.4" height="8" rx="0.8" fill="#f0a020"/>
<!-- bars -->
<g>
<path d="M1406.6 597.6 L1409.2 597.2 L1409.2 623.4 L1406.6 623.8 Z" fill="#58d862"/>
<path d="M1409.8 597 L1412.4 596.6 L1412.4 622.8 L1409.8 623.2 Z" fill="#7ee07a"/>
<path d="M1413 596.4 L1415.6 596 L1415.6 621.8 L1413 622.4 Z" fill="#9ddc7c"/>
<path d="M1416.2 595.8 L1418.8 595.4 L1418.8 620.6 L1416.2 621.2 Z" fill="#c8b050"/>
<path d="M1419.4 595.2 L1422 594.8 L1422 619.6 L1419.4 620.2 Z" fill="#e09440"/>
<path d="M1422.6 594.6 L1425.2 594.2 L1425.2 618.6 L1422.6 619.2 Z" fill="#e8863a"/>
</g>
<!-- side small text rows -->
<g fill="#2a2f38">
<rect x="1429.4" y="524" width="5" height="22" rx="0.6" opacity="0.75"/><rect x="1429.6" y="549" width="5" height="11" opacity="0.7"/><rect x="1429.8" y="562" width="5" height="12" opacity="0.7"/><rect x="1430" y="576" width="5" height="12" opacity="0.7"/><rect x="1430.2" y="591" width="5" height="32" opacity="0.75"/>
<rect x="1437.4" y="512" width="1.6" height="110" opacity="0.6"/><rect x="1441" y="512" width="1.6" height="108" opacity="0.6"/><rect x="1444" y="514" width="1.2" height="40" opacity="0.5"/>
</g>
<g fill="#a9b4c3"><rect x="1430.6" y="526" width="2.6" height="18"/><rect x="1431" y="593" width="2.6" height="28"/></g>
<text transform="matrix(0 -1 1 0 1395.4 618)" font-family="Liberation Serif, serif" font-weight="bold" font-size="8.8" fill="#1c2026" textLength="102" lengthAdjust="spacingAndGlyphs">Multi-Function Display</text>
<!-- socket -->
<path d="M1381.6 645.8 L1428.4 634.6 L1428.4 701.4 L1382.6 718.6 Z" fill="#c9ccd0"/>
<path d="M1385.6 649.6 L1428.4 638.8 L1428.4 696.6 L1386.2 712.2 Z" fill="#141416"/>
<path d="M1386.2 712.2 L1428.4 696.6 L1428.4 701.4 L1382.6 718.6 Z" fill="#e4e6e8"/>
<path d="M1392.4 657.8 L1406 654.6 L1406 660.2 L1392.4 663.6 Z" fill="#030304"/>
<path d="M1392.4 687.2 L1408.6 682.2 L1408.6 689.4 L1392.4 694.6 Z" fill="#030304"/>
<path d="M1414.4 665.6 Q1418.6 659.4 1422.8 663.4 L1422.8 674.4 L1414.4 677 Z" fill="#030304"/>
<!-- right vents beside socket -->
<g stroke="#060607" stroke-width="3" stroke-linecap="round" fill="none">
<path d="M1431.5 640.5 L1445 637"/><path d="M1431.5 649 L1445 645.4"/><path d="M1431.5 657.5 L1445 653.8"/><path d="M1431.5 666 L1445 662.2"/><path d="M1431.5 674.5 L1445 670.6"/><path d="M1431.5 683 L1445 679"/><path d="M1431.5 691.5 L1445 687.4"/><path d="M1431.5 700 L1445 695.8"/>
</g>
<!-- bottom vents -->
<g stroke="#060607" stroke-width="2.8" stroke-linecap="round" fill="none">
<path d="M1388.5 724 L1402 718.6"/><path d="M1408 716 L1421 710.6"/><path d="M1427 708 L1440 702.6"/>
<path d="M1390 733.4 L1402 728.4"/><path d="M1408 725.8 L1421 720.4"/><path d="M1427 717.8 L1439 712.6"/>
</g>
<circle cx="1384.4" cy="736.6" r="1.5" fill="#55565a"/><circle cx="1444.6" cy="705.6" r="1.4" fill="#55565a"/><circle cx="1381.4" cy="469.4" r="1.4" fill="#55565a"/><circle cx="1444" cy="471.6" r="1.4" fill="#55565a"/>
</g>

<!--BATTERY-->
<g transform="translate(-211.3,-12.6)">
<use href="#battbody"/>
<path d="M1131 1201.8 L1213.5 1201.6 L1214.5 1194.4 L1259.5 1192.2 L1344.5 1190.6 L1344.8 1185.4 L1372 1184.6 L1392 1188 L1432.3 1203.5 L1165 1218.5 Z" fill="#0c0d0f"/>
<use href="#batttop"/>
</g>
<use href="#battbody"/>
<path d="M1131.5 1201.5 L1223 1195 L1348 1189.5 L1350 1184.5 L1376 1183.5 L1392 1188 L1432.3 1203.5 L1165 1218.5 Z" fill="#0c0d0f"/>
<use href="#batttop"/>

<!--MPPT-->
<g>
<!-- right small flange -->
<path d="M517 1270 L533.4 1276.4 L520 1286 L506 1279 Z" fill="#151517"/>
<!-- flange left -->
<path d="M344.3 1281.6 L354.5 1273.2 L441 1338 L432.6 1350.2 Z" fill="#1a1a1c"/>
<path d="M344.3 1281.6 L432.6 1350.2 L432.4 1353 L344.6 1284.4 Z" fill="#070708"/>
<path d="M345.5 1281.4 L354.5 1274" stroke="#3c3c3f" stroke-width="1" fill="none"/>
<ellipse cx="388.2" cy="1311.6" rx="6" ry="2.6" transform="rotate(37 388.2 1311.6)" fill="#ffffff"/>
<!-- left-front side -->
<path d="M354.7 1251.4 L440 1316 L440.6 1339 L355 1272.5 Z" fill="#0c0c0e"/>
<path d="M355 1263 L440.2 1328" stroke="#242427" stroke-width="1.2" fill="none"/>
<!-- right-front side -->
<path d="M440 1316 L526.9 1262.8 L528 1270.5 L532.5 1276 L524 1282 L441.6 1339.4 Z" fill="#121214"/>
<path d="M441.5 1325 L520 1275.5 L520 1282 L442 1333 Z" fill="#060607"/>
<path d="M442 1323.4 L519 1274.6" stroke="#3a3a3d" stroke-width="1" fill="none"/>
<g fill="#2b2b2e"><circle cx="450" cy="1330.5" r="1.2"/><circle cx="455.5" cy="1327" r="1.2"/><circle cx="461" cy="1323.5" r="1.2"/><circle cx="466.5" cy="1320" r="1.2"/><circle cx="472" cy="1316.5" r="1.2"/><circle cx="477.5" cy="1313" r="1.2"/></g>
<path d="M462 1306.5 L470 1301.5 L470 1306 L462 1311 Z" fill="#2e7d4a"/>
<!-- top face -->
<path d="M354.7 1251.4 Q354 1250 356 1248.8 L436.6 1207.6 Q438.8 1206.5 441 1207.8 L525.6 1261.4 Q527.6 1262.8 525.6 1264.2 L442.2 1315.2 Q440 1316.5 438 1315 Z" fill="#1c1c1f"/>
<path d="M356.5 1251 L437.6 1209.6 Q438.8 1209 440 1209.8 L460 1222.4 L400 1270 Z" fill="#232326" opacity="0.8"/>
<path d="M355.4 1251.8 L439.6 1315.4" stroke="#404044" stroke-width="1.1" fill="none"/>
<path d="M356.2 1249 L437.4 1207.4" stroke="#38383c" stroke-width="0.9" fill="none"/>
<!-- top text -->
<g fill="#f1f1f1" font-family="Liberation Serif, serif">
<text transform="matrix(0.884 -0.468 0.797 0.604 398.4 1238.8)" font-size="8.4" font-weight="bold" textLength="39" lengthAdjust="spacingAndGlyphs">DC12/24</text>
</g>
<g fill="#e2e2e2" font-family="Liberation Mono, monospace" font-weight="bold">
<text transform="matrix(0.884 -0.468 0.797 0.604 372.8 1260.6)" font-size="4.6" textLength="89" lengthAdjust="spacingAndGlyphs">Waterproof wind generator controller</text>
<text transform="matrix(0.884 -0.468 0.797 0.604 386.8 1267.6)" font-size="4.2" textLength="48" lengthAdjust="spacingAndGlyphs" opacity="0.9">Rated operating voltage</text>
<text transform="matrix(0.884 -0.468 0.797 0.604 438.4 1240.3)" font-size="4.2" textLength="22" lengthAdjust="spacingAndGlyphs" opacity="0.9">DC12V/24V</text>
<text transform="matrix(0.884 -0.468 0.797 0.604 396.4 1275.6)" font-size="4.2" textLength="48" lengthAdjust="spacingAndGlyphs" opacity="0.9">Static power consumption</text>
<text transform="matrix(0.884 -0.468 0.797 0.604 447.6 1248.5)" font-size="4.2" textLength="15" lengthAdjust="spacingAndGlyphs" opacity="0.9">≤15mA</text>
<text transform="matrix(0.884 -0.468 0.797 0.604 406.4 1283.2)" font-size="4.2" textLength="34" lengthAdjust="spacingAndGlyphs" opacity="0.9">Protection class</text>
<text transform="matrix(0.884 -0.468 0.797 0.604 461.6 1254)" font-size="4.2" textLength="9" lengthAdjust="spacingAndGlyphs" opacity="0.9">IP67</text>
<text transform="matrix(0.884 -0.468 0.797 0.604 438.8 1280)" font-size="4.4" textLength="40" lengthAdjust="spacingAndGlyphs">Schematic wiring</text>
<text transform="matrix(0.884 -0.468 0.797 0.604 433.6 1298.6)" font-size="3.4" textLength="17" lengthAdjust="spacingAndGlyphs" opacity="0.8">Indicator</text>
<text transform="matrix(0.884 -0.468 0.797 0.604 440.4 1299.8)" font-size="3.4" textLength="10" lengthAdjust="spacingAndGlyphs" opacity="0.8">light</text>
<text transform="matrix(0.884 -0.468 0.797 0.604 458.4 1294.6)" font-size="3" textLength="27" lengthAdjust="spacingAndGlyphs" opacity="0.75">Green Yellow Brown</text>
<text transform="matrix(0.884 -0.468 0.797 0.604 492.6 1273.6)" font-size="3" textLength="13" lengthAdjust="spacingAndGlyphs" opacity="0.75">Black Red</text>
</g>
<g fill="none" stroke="#d8d8d8" stroke-width="0.7">
<path d="M451.6 1291.6 L451.6 1283.2 L470.6 1271.4 L481 1279.6 L477 1282"/>
<path d="M459.4 1286 L459.4 1279.2 M466.6 1281.6 L466.6 1274.6"/>
<path d="M483 1265 L483 1258 L495.4 1250.4 L506.6 1258.6 L502.6 1261.2"/>
<path d="M488.6 1261 L488.6 1254.8 L497.6 1260.6 L497.6 1254"/>
<circle cx="452.4" cy="1293.4" r="1.1"/><circle cx="503" cy="1262.6" r="1.1"/>
</g>
<!-- wires -->
<g fill="none" stroke-linecap="round">
<path d="M499 1280 C508 1288 520 1298 530 1297.5 C540 1297 545.6 1288 544.8 1274 C544 1260 541.6 1247 539.2 1235.4" stroke="#141416" stroke-width="4.2"/>
<path d="M539 1235 C540.6 1243 542.4 1251 543.6 1259" stroke="#0c0c0e" stroke-width="5.2"/>
<path d="M501.7 1276.6 C510 1285 520 1295 527.6 1293.4 C536 1291.6 538.4 1283 537.2 1272 C536 1260 532 1247 528.8 1237" stroke="#d91c1c" stroke-width="4.2"/>
<path d="M528.6 1236.5 C531 1245 534 1252 536 1259.6" stroke="#e8282c" stroke-width="5.4"/>
<path d="M488.7 1285 C498 1291 512 1302.5 527.9 1303.6 C540 1304.4 549.5 1295 554 1283.3 C557.5 1274 560 1262 562.4 1253.5" stroke="#1aa89c" stroke-width="5.3"/>
<path d="M479.3 1292.5 C490 1299 505 1310.5 520.4 1311.3 C536 1312 549 1304 555.9 1294.5 C562 1286 567 1278.5 574.5 1270.3" stroke="#1aa89c" stroke-width="5.3"/>
<path d="M470.5 1298.5 C482 1305.5 498 1316 513 1318.2 C530 1320.5 545 1312 554 1302 C561 1294 567 1286.5 575.5 1281.5" stroke="#1aa89c" stroke-width="5.3"/>
<g stroke="#58d6ca" stroke-width="1.2" opacity="0.9">
<path d="M489.7 1283.6 C499 1289.6 513 1301 527.9 1302 C539 1302.8 548.5 1294 553 1282.3 C556.5 1273 559 1261 561.2 1253.3"/>
<path d="M480.3 1291.2 C491 1297.7 506 1309 520.4 1309.8 C535 1310.5 548 1302.8 554.9 1293.3 C561 1285 566 1277.5 573.5 1269.3"/>
<path d="M471.5 1297.2 C483 1304.2 499 1314.6 513 1316.8 C529 1319 544 1310.8 553 1300.8 C560 1292.8 566 1285.4 574.5 1280.4"/>
</g>
<path d="M562.1 1254.6 L562.8 1252" stroke="#c9a25a" stroke-width="2.4"/>
<path d="M573.6 1271.2 L575.2 1269.5" stroke="#c9a25a" stroke-width="2.4"/>
<path d="M574.6 1282 L576.4 1281" stroke="#c9a25a" stroke-width="2.4"/>
<path d="M553.4 1284.6 l1.2 -3.2 M566.6 1278.4 l2 -2.6 M565 1288 l2.4 -2" stroke="#d8c060" stroke-width="1.6"/>
</g>
</g>

<!--WIRES-->
<g fill="none" stroke-linecap="round" stroke-linejoin="round">
<!-- MPPT -> battery -->
<path d="M597 1273.2 H918" stroke="#303030" stroke-width="5.2" stroke-linecap="butt"/>
<path d="M763.6 1273.2 L743.4 1265.2 L747 1273.2 L743.4 1281.2 Z" fill="#303030" stroke="#303030" stroke-width="0.8"/>
<!-- up arrow to inverter -->
<path d="M1181.8 1070 V899" stroke="#303030" stroke-width="5.4"/>
<path d="M1183.6 876.6 Q1178.5 890 1173.3 901.1 L1188.9 901.1 Z" fill="#303030" stroke="#303030" stroke-width="0.8"/>
<!-- outer black wire inverter -> battery 1 -->
<path d="M1360.2 736 V1090 Q1360.2 1102.4 1347.8 1102.4 H1174 Q1152 1102.4 1152 1124 V1168.5" stroke="#303030" stroke-width="5.4"/>
<path d="M1272 1102.4 Q1283 1100.5 1291.6 1094.2 L1291.6 1110.6 Q1283 1104.3 1272 1102.4 Z" fill="#303030" stroke="#303030" stroke-width="0.6"/>
<!-- inner black jumper -->
<path d="M1156.4 1140 Q1156.4 1126.4 1169 1126.4 H1338 Q1354.2 1126.4 1354.2 1142 V1183.5" stroke="#303030" stroke-width="5.3"/>
<!-- red jumper -->
<path d="M1197.8 1183 V1151 Q1197.8 1144 1204.8 1144 H1374 Q1386.6 1144 1386.6 1156 V1194" stroke="#cc1a21" stroke-width="5.6"/>
<!-- long red wire -->
<path d="M1439.6 718 V1177 Q1439.6 1191.8 1425 1191.8 H1400" stroke="#cf1b24" stroke-width="5.2"/>
<path d="M1439.8 773.5 L1431.8 756 L1447.8 756 Z" fill="#cf1b24" stroke="#cf1b24" stroke-width="0.8"/>
</g>

<!--LABELS-START-->
<g class="lbl">
<g transform="matrix(0.4479 0 0 1 83.90 0)"><g id="g1" clip-path="url(#cB)" transform="matrix(1 0 0 0.6869 0 46.88)"><text id="t1">Schematic diagram of wind turbine connection</text><use href="#t1" x="-4.5"/><use href="#t1" x="-2.25"/><use href="#t1" x="2.25"/><use href="#t1" x="4.5"/></g><g clip-path="url(#cA)" transform="matrix(1 0 0 0.4061 0 31.85)"><use href="#t1"/><use href="#t1" x="-4.5"/><use href="#t1" x="-2.25"/><use href="#t1" x="2.25"/><use href="#t1" x="4.5"/></g><g clip-path="url(#cC)" transform="matrix(1 0 0 0.2788 0 47.19)"><use href="#t1"/><use href="#t1" x="-4.5"/><use href="#t1" x="-2.25"/><use href="#t1" x="2.25"/><use href="#t1" x="4.5"/></g></g>
<g transform="matrix(0.3758 0 0 1 975.13 0)"><g id="g2" clip-path="url(#cB)" transform="matrix(1 0 0 0.6869 0 440.98)"><text id="t2">AC</text><use href="#t2" x="-4.5"/><use href="#t2" x="-2.25"/><use href="#t2" x="2.25"/><use href="#t2" x="4.5"/></g><g clip-path="url(#cA)" transform="matrix(1 0 0 0.4213 0 426.76)"><use href="#t2"/><use href="#t2" x="-4.5"/><use href="#t2" x="-2.25"/><use href="#t2" x="2.25"/><use href="#t2" x="4.5"/></g><g clip-path="url(#cC)" transform="matrix(1 0 0 0.2885 0 441.28)"><use href="#t2"/><use href="#t2" x="-4.5"/><use href="#t2" x="-2.25"/><use href="#t2" x="2.25"/><use href="#t2" x="4.5"/></g></g>
<g transform="matrix(0.4445 0 0 1 1047.56 0)"><g id="g3" clip-path="url(#cB)" transform="matrix(1 0 0 0.6869 0 440.98)"><text id="t3">power output</text><use href="#t3" x="-4.5"/><use href="#t3" x="-2.25"/><use href="#t3" x="2.25"/><use href="#t3" x="4.5"/></g><g clip-path="url(#cA)" transform="matrix(1 0 0 0.4213 0 426.76)"><use href="#t3"/><use href="#t3" x="-4.5"/><use href="#t3" x="-2.25"/><use href="#t3" x="2.25"/><use href="#t3" x="4.5"/></g><g clip-path="url(#cC)" transform="matrix(1 0 0 0.2885 0 441.28)"><use href="#t3"/><use href="#t3" x="-4.5"/><use href="#t3" x="-2.25"/><use href="#t3" x="2.25"/><use href="#t3" x="4.5"/></g></g>
<g transform="matrix(0.4472 0 0 1 491.04 0)"><g id="g4" clip-path="url(#cB)" transform="matrix(1 0 0 0.6777 0 848.39)"><text id="t4">wind turbine</text><use href="#t4" x="-4.5"/><use href="#t4" x="-2.25"/><use href="#t4" x="2.25"/><use href="#t4" x="4.5"/></g><g clip-path="url(#cA)" transform="matrix(1 0 0 0.4315 0 835.21)"><use href="#t4"/><use href="#t4" x="-4.5"/><use href="#t4" x="-2.25"/><use href="#t4" x="2.25"/><use href="#t4" x="4.5"/></g><g clip-path="url(#cC)" transform="matrix(1 0 0 0.2788 0 848.69)"><use href="#t4"/><use href="#t4" x="-4.5"/><use href="#t4" x="-2.25"/><use href="#t4" x="2.25"/><use href="#t4" x="4.5"/></g></g>
<g transform="matrix(0.4479 0 0 1 1003.85 0)"><g id="g5" clip-path="url(#cB)" transform="matrix(1 0 0 0.6832 0 863.19)"><text id="t5">power inverter</text><use href="#t5" x="-4.5"/><use href="#t5" x="-2.25"/><use href="#t5" x="2.25"/><use href="#t5" x="4.5"/></g><g clip-path="url(#cA)" transform="matrix(1 0 0 0.4213 0 849.16)"><use href="#t5"/><use href="#t5" x="-4.5"/><use href="#t5" x="-2.25"/><use href="#t5" x="2.25"/><use href="#t5" x="4.5"/></g><g clip-path="url(#cC)" transform="matrix(1 0 0 0.2740 0 863.49)"><use href="#t5"/><use href="#t5" x="-4.5"/><use href="#t5" x="-2.25"/><use href="#t5" x="2.25"/><use href="#t5" x="4.5"/></g></g>
<g transform="matrix(0.4081 0 0 1 2.44 0)"><g id="g6" clip-path="url(#cB)" transform="matrix(1 0 0 0.6777 0 1220.29)"><text id="t6">MPPT</text><use href="#t6" x="-4.5"/><use href="#t6" x="-2.25"/><use href="#t6" x="2.25"/><use href="#t6" x="4.5"/></g><g clip-path="url(#cA)" transform="matrix(1 0 0 0.4264 0 1206.83)"><use href="#t6"/><use href="#t6" x="-4.5"/><use href="#t6" x="-2.25"/><use href="#t6" x="2.25"/><use href="#t6" x="4.5"/></g><g clip-path="url(#cC)" transform="matrix(1 0 0 0.2788 0 1220.59)"><use href="#t6"/><use href="#t6" x="-4.5"/><use href="#t6" x="-2.25"/><use href="#t6" x="2.25"/><use href="#t6" x="4.5"/></g></g>
<g transform="matrix(0.4469 0 0 1 139.15 0)"><g id="g7" clip-path="url(#cB)" transform="matrix(1 0 0 0.6777 0 1220.29)"><text id="t7">controller</text><use href="#t7" x="-4.5"/><use href="#t7" x="-2.25"/><use href="#t7" x="2.25"/><use href="#t7" x="4.5"/></g><g clip-path="url(#cA)" transform="matrix(1 0 0 0.4264 0 1206.83)"><use href="#t7"/><use href="#t7" x="-4.5"/><use href="#t7" x="-2.25"/><use href="#t7" x="2.25"/><use href="#t7" x="4.5"/></g><g clip-path="url(#cC)" transform="matrix(1 0 0 0.2788 0 1220.59)"><use href="#t7"/><use href="#t7" x="-4.5"/><use href="#t7" x="-2.25"/><use href="#t7" x="2.25"/><use href="#t7" x="4.5"/></g></g>
<g transform="matrix(0.4463 0 0 1 1007.99 0)"><g id="g8" clip-path="url(#cB)" transform="matrix(1 0 0 0.6759 0 1462.69)"><text id="t8">storage battery</text><use href="#t8" x="-4.5"/><use href="#t8" x="-2.25"/><use href="#t8" x="2.25"/><use href="#t8" x="4.5"/></g><g clip-path="url(#cA)" transform="matrix(1 0 0 0.4315 0 1449.61)"><use href="#t8"/><use href="#t8" x="-4.5"/><use href="#t8" x="-2.25"/><use href="#t8" x="2.25"/><use href="#t8" x="4.5"/></g><g clip-path="url(#cC)" transform="matrix(1 0 0 0.2837 0 1462.99)"><use href="#t8"/><use href="#t8" x="-4.5"/><use href="#t8" x="-2.25"/><use href="#t8" x="2.25"/><use href="#t8" x="4.5"/></g></g>
<g transform="matrix(0 -1 1 0 -0.85 1212.90) matrix(1 0.00339 0 1 0 0) matrix(0.4480 0 0 1 -0.45 0)"><g clip-path="url(#cB)" transform="matrix(1 0 0 0.6722 0 1490.30)"><text id="t9">DC12V/24V/48V</text><use href="#t9" x="-4.5"/><use href="#t9" x="-2.25"/><use href="#t9" x="2.25"/><use href="#t9" x="4.5"/></g><g clip-path="url(#cA)" transform="matrix(1 0 0 0.4772 0 1479.85)"><use href="#t9"/><use href="#t9" x="-4.5"/><use href="#t9" x="-2.25"/><use href="#t9" x="2.25"/><use href="#t9" x="4.5"/></g><g clip-path="url(#cC)" transform="matrix(1 0 0 0.2788 0 1490.59)"><use href="#t9"/><use href="#t9" x="-4.5"/><use href="#t9" x="-2.25"/><use href="#t9" x="2.25"/><use href="#t9" x="4.5"/></g></g>
<g transform="matrix(0 -1 1 0 -0.85 1212.90) matrix(1 0.00339 0 1 0 0) matrix(0.4409 0 0 1 379.32 0)"><g clip-path="url(#cB)" transform="matrix(1 0 0 0.6722 0 1490.30)"><text id="t10">input</text><use href="#t10" x="-4.5"/><use href="#t10" x="-2.25"/><use href="#t10" x="2.25"/><use href="#t10" x="4.5"/></g><g clip-path="url(#cA)" transform="matrix(1 0 0 0.4772 0 1479.85)"><use href="#t10"/><use href="#t10" x="-4.5"/><use href="#t10" x="-2.25"/><use href="#t10" x="2.25"/><use href="#t10" x="4.5"/></g><g clip-path="url(#cC)" transform="matrix(1 0 0 0.2788 0 1490.59)"><use href="#t10"/><use href="#t10" x="-4.5"/><use href="#t10" x="-2.25"/><use href="#t10" x="2.25"/><use href="#t10" x="4.5"/></g></g>
</g>
<!--LABELS-END-->
</g>
</svg>
</body>
</html>
